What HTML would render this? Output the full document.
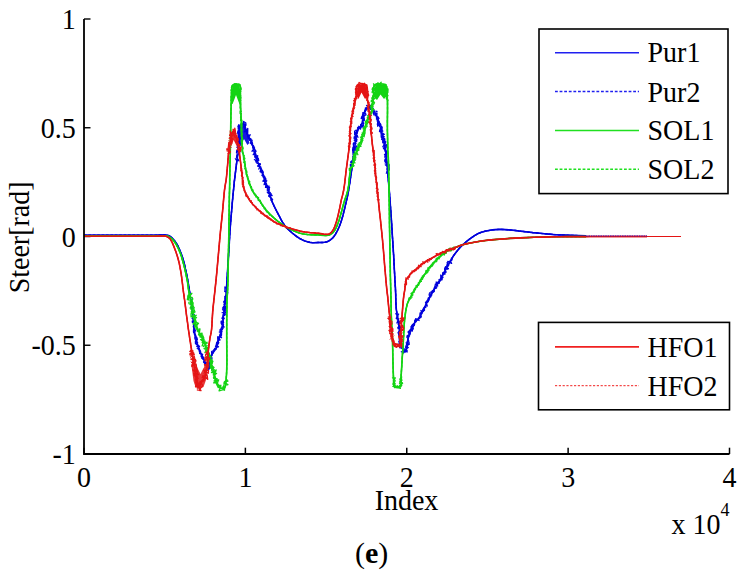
<!DOCTYPE html>
<html><head><meta charset="utf-8"><style>
html,body{margin:0;padding:0;background:#fff;}
svg{display:block;}
text{font-family:"Liberation Serif",serif;font-size:28px;fill:#000;}
</style></head><body>
<svg width="745" height="578" viewBox="0 0 745 578">
<rect width="745" height="578" fill="#fff"/>
<g fill="none"><line x1="84" y1="19.00" x2="90.5" y2="19.00" stroke="#000" stroke-width="1.4"/><line x1="84" y1="127.75" x2="90.5" y2="127.75" stroke="#000" stroke-width="1.4"/><line x1="84" y1="236.50" x2="90.5" y2="236.50" stroke="#000" stroke-width="1.4"/><line x1="84" y1="345.25" x2="90.5" y2="345.25" stroke="#000" stroke-width="1.4"/><line x1="84" y1="454.00" x2="90.5" y2="454.00" stroke="#000" stroke-width="1.4"/><line x1="84.00" y1="454" x2="84.00" y2="447.7" stroke="#000" stroke-width="1.5"/><line x1="245.38" y1="454" x2="245.38" y2="447.7" stroke="#000" stroke-width="1.5"/><line x1="406.75" y1="454" x2="406.75" y2="447.7" stroke="#000" stroke-width="1.5"/><line x1="568.12" y1="454" x2="568.12" y2="447.7" stroke="#000" stroke-width="1.5"/><line x1="729.50" y1="454" x2="729.50" y2="447.7" stroke="#000" stroke-width="1.5"/></g>
<g fill="none" stroke-linejoin="round" stroke-linecap="butt">

<polyline points="84.0,235.2 88.0,235.2 91.9,235.2 95.9,235.2 100.0,235.2 104.8,235.2 109.9,235.2 114.9,235.2 120.0,235.2 125.1,235.2 130.2,235.2 135.2,235.2 140.0,235.2 143.9,235.2 147.7,235.2 151.4,235.2 155.0,235.2 158.3,235.1 161.6,235.0 164.6,235.0 167.0,235.2 168.2,235.5 169.1,235.8 170.0,236.3 170.9,236.9 171.7,237.6 172.5,238.5 173.5,239.5 174.5,240.7 175.5,242.1 176.5,243.5 177.6,245.4 178.6,247.5 179.6,249.8 180.5,252.0 181.4,254.2 182.2,256.5 182.9,258.8 183.6,261.2 184.3,263.7 184.9,266.3 185.4,268.9 186.0,271.5 186.6,274.1 187.1,276.8 187.6,279.4 188.1,281.9 188.4,284.0 188.7,286.0 189.0,287.9 189.3,290.0 189.7,292.4 190.0,294.8 190.4,297.3 190.8,300.0 191.3,303.5 191.9,307.3 192.5,311.1 193.0,315.0 193.4,319.0 193.7,323.1 194.0,327.2 194.5,331.2 195.2,335.3 196.1,339.3 197.1,343.3 198.2,347.0 199.3,350.0 200.6,352.8 201.8,355.5 203.0,357.9 203.8,359.6 204.5,361.1 205.2,362.6 206.0,364.0 206.8,365.5 207.6,367.1 208.4,368.4 209.1,368.8 209.8,367.1 210.3,363.4 210.7,359.1 211.5,355.5 212.5,353.5 213.7,351.7 215.0,350.0 216.0,348.2 216.8,346.2 217.4,344.2 217.9,342.1 218.5,340.0 219.3,337.7 220.0,335.3 220.8,332.8 221.5,330.0 222.3,325.7 222.9,320.8 223.4,315.8 224.0,311.0 224.5,306.6 225.1,302.3 225.6,298.1 226.0,294.0 226.3,290.5 226.5,287.2 226.8,283.8 227.0,280.0 227.4,273.8 227.8,266.9 228.3,259.7 228.7,252.5 229.2,244.9 229.6,237.1 230.1,229.3 230.7,221.5 231.4,213.3 232.1,205.0 232.8,197.0 233.5,190.0 233.9,186.1 234.2,182.7 234.6,179.4 235.0,176.0 235.5,172.0 236.0,167.8 236.5,163.8 237.0,160.0 237.4,157.4 237.8,155.1 238.3,152.7 238.6,150.0 238.8,144.4 238.8,137.6 239.0,131.3 239.6,127.0 240.1,125.9 240.8,125.1 241.5,124.5 242.6,123.7 243.8,123.5 244.7,124.9 245.4,127.6 246.1,130.7 246.9,133.5 247.9,135.5 249.0,137.3 250.1,139.2 251.1,141.1 251.9,143.3 252.6,145.6 253.2,147.9 253.8,150.0 254.2,151.4 254.4,152.7 254.7,154.0 255.2,155.6 256.4,158.9 258.1,162.8 259.9,167.0 261.5,171.0 262.9,174.9 264.3,178.7 265.7,182.6 267.0,186.5 268.3,190.5 269.6,194.5 271.0,198.5 272.4,202.3 273.9,205.6 275.4,208.7 277.0,211.8 278.6,214.8 280.1,217.7 281.6,220.6 283.2,223.3 284.8,225.7 286.0,227.2 287.2,228.5 288.5,229.7 290.0,231.0 292.2,233.0 294.7,235.0 297.4,237.0 300.0,238.7 302.5,239.9 305.0,241.0 307.5,241.8 310.0,242.4 312.0,242.6 314.0,242.7 316.0,242.6 318.0,242.5 320.2,242.5 322.4,242.5 324.6,242.3 326.6,241.9 328.3,241.2 329.9,240.2 331.4,239.1 332.8,237.8 334.3,236.0 335.6,234.0 336.8,231.8 338.0,229.5 339.2,226.8 340.3,223.9 341.3,221.0 342.2,218.0 343.1,214.9 343.8,211.8 344.6,208.7 345.3,205.6 346.0,202.8 346.6,200.0 347.3,197.2 347.9,194.2 348.6,190.4 349.2,186.3 349.9,182.2 350.5,178.0 351.2,173.5 351.8,168.9 352.4,164.2 353.0,159.8 353.5,156.0 354.0,152.3 354.5,148.6 355.0,145.0 355.4,141.3 355.8,137.4 356.2,133.8 357.1,130.8 358.1,129.2 359.2,127.8 360.4,126.6 361.4,125.0 362.2,122.4 362.8,119.4 363.3,116.4 364.0,113.9 364.6,112.5 365.2,111.2 365.8,110.0 366.5,109.0 367.4,107.8 368.3,106.8 369.2,106.3 370.1,106.8 371.1,107.8 372.0,109.0 372.8,109.9 373.7,110.8 374.5,111.9 375.3,113.1 376.5,115.7 377.6,118.9 378.7,122.2 379.6,125.0 380.1,126.5 380.6,127.8 381.0,129.2 381.5,130.8 382.3,134.2 383.2,138.1 384.0,142.3 384.7,146.3 385.3,149.8 385.9,153.3 386.4,156.7 386.8,160.0 387.0,162.5 387.2,164.8 387.3,167.2 387.5,170.0 388.0,176.0 388.6,183.0 389.3,190.7 389.9,198.9 390.8,211.0 391.7,224.4 392.5,237.8 393.3,250.0 393.8,258.4 394.2,266.5 394.6,273.8 394.9,280.0 395.1,282.8 395.2,285.1 395.4,287.4 395.5,290.0 395.7,294.6 395.8,299.8 396.0,305.0 396.4,310.0 397.0,313.9 397.7,317.5 398.5,321.1 399.1,325.0 399.5,330.0 399.8,335.5 400.2,340.7 401.0,345.0 401.9,347.4 402.9,349.7 404.0,351.4 405.0,352.0 406.1,349.9 407.1,345.2 408.0,339.7 409.0,335.0 409.9,332.2 410.8,329.6 411.8,327.2 413.0,325.0 414.2,323.4 415.4,321.9 416.7,320.5 418.0,319.0 419.3,317.1 420.6,315.2 421.8,313.1 423.0,311.0 424.3,308.4 425.5,305.7 426.8,302.9 428.2,300.0 430.1,296.5 432.2,292.9 434.4,289.2 436.5,285.7 438.4,282.5 440.2,279.4 442.0,276.3 443.8,273.2 445.4,270.3 447.0,267.3 448.5,264.5 450.0,261.8 451.2,259.7 452.4,257.7 453.6,255.7 455.0,253.7 456.9,251.3 458.9,248.8 461.1,246.4 463.6,244.0 467.0,241.1 470.9,238.1 474.9,235.4 478.7,233.3 481.6,232.2 484.4,231.4 487.2,230.8 490.0,230.3 492.5,229.9 495.0,229.6 497.5,229.5 500.1,229.4 503.0,229.5 505.9,229.6 508.9,229.9 512.0,230.2 515.4,230.5 518.9,231.0 522.4,231.4 525.9,231.8 529.4,232.2 532.8,232.6 536.3,232.9 540.0,233.3 544.3,233.7 548.7,234.1 553.2,234.5 558.1,234.8 564.7,235.1 571.7,235.4 578.9,235.6 586.0,235.8" stroke="#0000dc" stroke-width="1.6"/>
<polyline points="84.0,235.2 88.0,235.2 91.9,235.2 95.9,235.2 100.0,235.2 104.8,235.2 109.9,235.2 114.9,235.2 120.0,235.2 125.1,235.2 130.2,235.2 135.2,235.2 140.0,235.2 143.9,235.2 147.7,235.2 151.4,235.2 155.0,235.2 158.3,235.1 161.6,235.0 164.6,235.0 167.0,235.2 168.2,235.5 169.1,235.8 170.0,236.3 170.9,236.9 171.7,237.6 172.5,238.5 173.5,239.5 174.5,240.7 175.5,242.1 176.5,243.5 177.6,245.4 178.6,247.5 179.6,249.8 180.5,252.0 181.4,254.2 182.2,256.5 182.9,258.8 183.6,261.2 184.3,263.7 184.9,266.3 185.4,268.9 186.0,271.5 186.6,274.1 187.1,276.8 187.6,279.4 188.1,281.9 188.4,284.0 188.7,286.0 189.0,287.9 189.3,290.0 189.7,292.4 190.0,294.8 190.4,297.3 190.8,300.0 191.3,303.5 191.9,307.3 192.5,311.1 192.6,312.1 192.7,313.1 192.9,314.0 192.3,315.7 193.6,317.1 192.2,315.6 192.2,316.4 194.0,316.9 193.5,318.0 192.8,319.6 194.5,321.0 192.2,320.6 192.6,323.6 194.6,324.2 194.7,324.8 195.1,325.8 193.2,326.8 193.9,327.3 194.2,326.9 193.7,327.7 193.7,327.4 195.2,330.7 195.8,331.1 194.7,332.1 193.6,332.6 194.6,331.7 194.1,333.7 194.4,334.3 195.5,334.9 194.3,336.0 194.8,335.9 194.9,337.2 194.7,339.1 197.4,338.9 196.9,341.7 195.2,339.6 197.6,342.9 197.3,341.3 196.8,344.6 198.5,345.3 196.8,346.4 197.6,346.9 197.2,348.7 198.9,348.8 198.1,349.4 199.5,350.3 199.3,351.7 199.7,351.1 199.6,353.5 199.9,352.7 200.2,355.1 202.0,355.6 200.9,356.1 202.2,355.6 201.6,359.7 202.3,358.0 203.1,359.9 202.9,360.2 204.1,362.3 203.4,361.3 205.2,364.3 205.7,363.2 206.6,363.1 204.7,364.8 208.2,366.6 206.3,367.1 208.8,366.0 208.7,367.7 208.2,367.9 208.4,367.3 208.2,366.7 208.5,367.3 210.4,363.1 211.1,363.0 210.2,363.7 209.8,361.6 210.2,360.1 211.8,359.1 211.8,358.7 210.0,358.6 209.3,356.6 210.6,357.0 212.6,358.6 209.9,355.7 210.7,355.8 211.9,355.2 213.3,351.0 212.0,350.6 215.6,349.3 214.9,349.5 214.9,350.4 215.0,349.2 217.0,349.1 216.8,348.1 216.9,345.5 217.8,345.7 219.0,341.5 216.6,342.3 219.3,341.2 217.8,342.0 218.0,337.4 217.4,336.4 220.1,335.9 220.3,338.5 221.5,337.4 219.8,335.8 221.5,335.4 219.8,334.8 219.4,331.9 222.8,331.7 220.5,332.2 221.3,327.8 220.0,328.1 221.2,330.2 221.1,328.9 223.4,326.2 224.0,326.8 222.3,323.8 222.3,325.8 222.7,321.9 222.2,322.3 221.7,322.0 221.2,322.2 221.8,318.2 223.4,318.3 224.5,318.3 223.3,319.0 222.3,317.7 224.0,315.5 225.2,312.9 224.9,312.6 224.9,311.9 222.2,312.6 225.4,310.7 224.0,311.5 223.2,310.3 222.5,309.0 225.2,307.7 223.5,305.5 225.3,306.3 226.1,306.8 223.4,306.7 226.4,305.5 226.1,304.0 225.9,303.1 225.5,300.4 224.0,301.6 225.7,297.9 226.0,299.4 225.6,299.3 227.0,296.8 226.9,296.5 226.1,295.3 227.4,294.6 227.6,293.3 226.7,294.9 226.8,291.7 224.7,291.3 226.0,291.9 227.4,291.8 226.2,288.5 226.7,289.1 226.5,287.2 226.8,283.8 227.0,280.0 227.4,273.8 227.8,266.9 228.3,259.7 228.7,252.5 229.2,244.9 229.6,237.1 230.1,229.3 230.7,221.5 231.4,213.3 232.1,205.0 232.8,197.0 233.5,190.0 233.9,186.1 234.2,182.7 234.6,179.4 235.0,176.0 235.5,172.0 236.0,167.8 236.5,163.8 236.6,162.8 236.7,161.9 236.9,160.9 235.4,158.6 235.8,158.3 236.5,160.5 236.3,159.5 236.8,154.9 239.7,153.1 236.5,152.5 236.5,153.0 237.1,151.1 236.5,152.8 236.8,149.6 238.9,151.8 239.2,150.2 239.4,149.8 240.1,145.9 237.0,147.4 238.8,146.1 239.9,143.6 239.6,144.0 238.5,142.3 238.0,143.1 239.0,143.8 238.0,142.0 237.3,140.9 237.5,141.0 240.6,137.3 240.0,136.3 238.1,134.8 238.6,133.9 239.7,135.3 238.6,135.0 237.9,132.3 238.4,129.8 240.4,129.3 237.6,131.9 240.4,129.3 239.0,127.0 237.6,128.0 238.6,125.3 241.7,123.6 240.3,126.3 242.4,122.6 243.6,124.0 244.3,125.6 245.4,124.7 245.7,124.9 245.1,127.3 245.6,126.1 243.5,129.0 244.9,128.0 244.9,129.4 245.5,131.6 246.4,131.0 247.4,131.4 246.8,133.8 247.8,134.7 248.9,134.8 248.1,134.0 247.5,136.1 249.0,139.2 247.8,137.5 251.1,139.0 252.0,138.5 252.1,140.8 251.8,140.1 251.5,144.8 253.1,144.4 252.1,142.6 253.4,145.4 253.8,147.3 252.9,149.7 252.1,151.1 252.2,152.3 254.5,151.2 256.1,152.8 254.8,151.9 256.1,155.5 254.2,153.7 255.2,158.5 257.2,157.1 254.4,159.7 255.3,160.0 256.8,161.9 255.8,161.9 258.3,158.9 258.0,161.1 258.8,165.0 259.1,163.6 259.2,163.3 259.0,163.5 260.4,164.1 260.0,165.4 260.4,165.6 258.7,169.2 261.7,171.2 261.9,172.6 260.1,171.6 262.3,170.2 260.7,171.3 262.4,174.7 263.5,174.4 261.3,175.9 263.3,174.0 263.9,175.2 263.0,176.9 265.0,176.1 264.1,177.5 265.2,181.0 263.9,181.3 265.0,179.7 264.5,182.0 266.8,183.1 264.0,184.7 266.5,183.8 265.5,184.7 267.5,184.6 265.6,188.3 267.0,185.2 269.0,186.2 267.3,189.5 268.7,191.6 267.1,190.8 270.0,191.1 269.7,191.9 269.9,195.1 268.7,194.9 269.0,196.4 270.9,197.0 271.6,196.6 272.1,195.3 271.0,195.7 271.3,199.4 270.4,200.8 271.5,200.0 271.8,200.8 272.1,201.5 272.4,202.3 273.9,205.6 275.4,208.7 277.0,211.8 278.6,214.8 280.1,217.7 281.6,220.6 283.2,223.3 284.8,225.7 286.0,227.2 287.2,228.5 288.5,229.7 290.0,231.0 292.2,233.0 294.7,235.0 297.4,237.0 300.0,238.7 302.5,239.9 305.0,241.0 307.5,241.8 310.0,242.4 312.0,242.6 314.0,242.7 316.0,242.6 318.0,242.5 320.2,242.5 322.4,242.5 324.6,242.3 326.6,241.9 328.3,241.2 329.9,240.2 331.4,239.1 332.8,237.8 334.3,236.0 335.6,234.0 336.8,231.8 338.0,229.5 339.2,226.8 340.3,223.9 341.3,221.0 342.2,218.0 343.1,214.9 343.8,211.8 344.6,208.7 345.3,205.6 346.0,202.8 346.6,200.0 347.3,197.2 347.9,194.2 348.6,190.4 349.2,186.3 349.9,182.2 350.5,178.0 351.2,173.5 351.8,168.9 351.9,167.9 351.7,165.4 350.9,166.5 351.8,162.8 351.6,166.7 352.4,164.3 352.3,160.2 353.2,160.1 351.3,161.3 353.7,157.3 355.0,156.4 351.9,157.0 354.6,158.2 354.5,155.6 355.4,153.2 355.7,151.8 352.4,154.5 355.1,153.2 353.1,153.3 354.3,148.9 352.7,152.1 352.6,147.2 354.0,149.8 356.1,148.6 355.4,143.4 356.0,143.4 357.0,146.5 353.4,144.3 354.2,140.1 357.0,141.0 354.6,140.6 353.8,139.0 356.3,140.3 354.2,139.5 354.2,135.0 355.3,133.9 354.4,135.6 355.8,132.2 356.6,130.9 357.6,134.2 357.0,130.4 357.2,129.3 357.7,127.5 357.8,129.5 359.1,125.6 358.3,129.0 359.8,128.3 361.4,126.4 360.8,125.4 361.3,124.2 363.8,121.2 361.1,124.5 364.2,123.0 364.1,118.4 363.7,117.5 364.4,117.9 363.1,117.5 362.1,116.8 365.1,115.3 363.5,114.1 362.7,112.8 366.0,114.9 364.6,110.1 365.1,111.9 365.5,107.3 366.6,105.7 366.8,105.4 369.8,108.5 369.1,105.7 371.4,105.4 370.3,109.4 372.7,109.1 373.3,108.3 373.5,110.2 374.2,110.9 377.0,111.5 375.7,113.1 375.3,117.0 378.7,118.9 376.4,117.5 377.1,115.9 377.3,119.5 377.5,121.2 377.9,119.5 380.1,121.7 377.7,124.3 378.9,123.6 379.2,125.9 380.6,124.7 379.3,127.2 381.5,127.1 382.2,128.0 380.7,128.2 380.3,128.2 383.3,131.1 380.0,130.1 381.6,134.1 383.6,134.7 381.4,133.8 384.3,134.4 383.3,133.4 382.7,136.6 384.7,139.7 384.2,137.3 384.9,141.1 381.7,139.4 383.9,139.6 382.7,143.0 382.8,142.6 382.1,142.9 386.2,141.3 382.8,146.8 386.3,145.5 383.8,145.3 385.8,147.6 384.8,149.1 383.5,148.4 386.9,152.0 385.4,152.2 387.2,151.7 384.3,150.4 386.6,152.5 386.1,151.8 388.0,153.9 386.8,156.5 385.8,155.2 386.8,156.7 384.8,156.7 384.8,161.3 385.6,162.2 387.4,163.2 386.8,160.4 385.3,163.1 387.9,164.6 388.9,162.7 387.8,166.6 389.1,165.1 389.1,164.7 387.7,167.2 387.5,167.4 387.0,169.2 387.4,170.4 386.5,170.0 387.7,172.6 387.8,173.4 387.8,174.3 387.9,175.1 388.0,176.0 388.6,183.0 389.3,190.7 389.9,198.9 390.8,211.0 391.7,224.4 392.5,237.8 393.3,250.0 393.8,258.4 394.2,266.5 394.6,273.8 394.9,280.0 395.1,282.8 395.2,285.1 395.4,287.4 395.5,290.0 395.7,294.6 395.8,299.8 396.0,305.0 396.4,310.0 397.0,313.9 397.0,316.9 398.6,314.1 398.0,315.0 397.1,319.7 397.3,316.7 398.3,319.7 398.3,322.2 398.5,320.5 397.6,322.5 399.6,323.1 398.6,322.9 400.3,327.2 399.5,326.8 398.6,325.2 397.8,328.0 400.9,329.2 400.1,330.8 399.2,329.7 398.7,332.4 400.3,332.0 400.6,334.6 398.1,332.4 399.6,335.5 398.9,335.2 400.4,335.5 400.5,335.3 399.7,338.7 401.3,339.0 400.7,340.6 400.7,340.5 399.7,339.9 401.9,343.6 401.2,344.4 400.2,342.7 401.1,344.9 401.8,347.4 401.2,346.1 402.6,349.1 402.5,348.6 404.0,350.8 401.3,351.8 402.1,350.8 404.0,353.5 404.1,350.0 407.2,350.8 406.0,349.6 405.5,346.9 406.7,346.8 406.7,349.3 408.6,345.3 406.5,343.6 407.6,343.0 406.0,345.5 407.7,344.6 406.6,340.6 408.0,342.1 406.7,340.5 408.2,339.7 407.5,338.5 407.0,336.0 407.0,338.3 407.9,336.7 407.6,336.7 407.6,335.4 409.7,334.9 411.3,330.1 408.6,330.2 408.9,332.1 409.6,330.4 412.7,329.7 413.2,328.7 411.4,329.3 411.2,326.7 412.3,325.9 412.3,327.0 415.3,325.1 414.1,325.3 416.4,320.7 416.8,320.2 414.7,320.1 416.3,320.5 419.0,318.2 418.5,319.0 417.3,320.3 420.8,316.5 421.2,315.9 421.2,317.1 421.7,313.6 420.2,313.0 422.5,311.4 422.9,309.6 422.1,310.9 423.4,311.0 422.9,308.3 425.1,307.5 423.5,308.1 424.6,307.0 427.2,307.8 427.0,306.8 427.4,303.2 428.3,301.2 426.1,302.2 426.2,301.9 428.0,299.4 429.1,298.2 428.6,298.1 430.7,296.7 429.2,298.3 429.4,298.0 429.2,293.9 429.2,295.3 431.3,294.5 431.7,295.3 431.2,291.3 431.8,293.6 434.2,289.7 431.8,292.9 435.6,289.0 434.5,287.3 434.9,287.1 435.9,286.3 435.9,286.4 436.0,288.4 436.6,287.8 437.7,283.7 436.6,285.5 438.9,281.7 439.5,281.6 439.1,283.4 440.8,279.5 438.5,279.1 440.6,281.4 441.2,279.8 442.3,277.7 441.1,278.4 442.5,278.0 444.2,275.4 442.4,273.1 443.7,273.2 443.1,273.2 445.0,273.3 444.5,272.4 445.5,272.8 446.1,271.8 444.9,271.1 444.4,270.2 444.9,268.6 446.2,265.9 448.2,265.0 448.4,264.1 447.1,264.7 448.7,265.2 448.5,265.2 447.8,261.3 449.6,262.3 450.9,262.8 450.3,261.0 451.9,258.2 451.3,258.4 452.4,257.7 453.6,255.7 455.0,253.7 456.9,251.3 458.9,248.8 461.1,246.4 463.6,244.0 467.0,241.1 470.9,238.1 474.9,235.4 478.7,233.3 481.6,232.2 484.4,231.4 487.2,230.8 490.0,230.3 492.5,229.9 495.0,229.6 497.5,229.5 500.1,229.4 503.0,229.5 505.9,229.6 508.9,229.9 512.0,230.2 515.4,230.5 518.9,231.0 522.4,231.4 525.9,231.8 529.4,232.2 532.8,232.6 536.3,232.9 540.0,233.3 544.3,233.7 548.7,234.1 553.2,234.5 558.1,234.8 564.7,235.1 571.7,235.4 578.9,235.6 586.0,235.8" stroke="#0000dc" stroke-width="1.3" stroke-dasharray="2.6 1.8"/>
<polyline points="84.0,235.2 88.0,235.2 91.9,235.2 95.9,235.2 100.0,235.2 104.8,235.2 109.9,235.2 114.9,235.2 120.0,235.2 125.1,235.2 130.2,235.2 135.2,235.2 140.0,235.2 143.9,235.2 147.7,235.2 151.4,235.2 155.0,235.2 158.3,235.1 161.6,235.0 164.6,235.0 167.0,235.2 168.2,235.5 169.1,235.8 170.0,236.3 170.9,236.9 171.7,237.6 172.5,238.5 173.5,239.5 174.5,240.7 175.5,242.1 176.5,243.5 177.6,245.4 178.6,247.5 179.6,249.8 180.5,252.0 181.4,254.2 182.2,256.5 182.9,258.8 183.6,261.2 184.3,263.7 184.9,266.3 185.4,268.9 186.0,271.5 186.6,274.1 187.1,276.8 187.6,279.4 188.1,281.9 188.4,284.0 188.7,286.0 189.0,287.9 189.3,290.0 189.7,292.4 190.0,294.8 190.4,297.3 190.8,300.0 191.3,303.5 191.9,307.3 192.5,311.1 192.6,312.1 192.7,313.1 192.9,314.0 194.2,316.6 194.2,314.3 193.4,316.3 193.3,316.1 192.4,318.0 192.6,318.8 192.1,318.3 194.1,320.4 193.6,322.3 193.2,320.7 194.5,323.4 194.2,324.3 195.1,324.2 194.6,325.1 194.1,326.9 193.5,325.7 194.0,328.8 194.5,328.6 194.7,328.4 193.5,329.8 195.4,330.1 193.5,330.6 193.5,332.0 195.1,334.8 194.6,334.0 194.6,334.6 196.2,336.2 194.9,335.5 196.6,338.4 196.9,337.6 196.2,340.8 196.6,341.7 195.5,342.6 195.4,341.4 195.5,343.6 197.6,345.0 198.2,345.8 197.8,346.9 198.6,345.5 199.6,346.6 197.7,346.5 198.8,347.9 200.6,351.6 198.9,349.5 200.2,350.7 200.7,353.9 200.3,353.4 202.6,354.4 201.4,356.9 203.1,357.7 203.2,356.8 203.6,359.1 203.8,357.8 203.2,359.2 204.9,360.6 204.7,362.3 203.7,362.3 204.8,362.8 206.6,362.4 207.6,362.1 206.6,364.9 205.8,365.8 207.1,366.1 208.4,364.9 208.0,369.6 207.8,370.4 208.4,368.8 208.7,366.9 209.7,364.4 210.7,365.2 210.8,364.5 210.4,363.5 209.6,364.3 209.0,363.3 211.8,360.8 211.6,360.7 211.1,358.2 210.3,357.5 210.4,359.3 210.7,355.9 211.2,356.9 211.9,354.7 211.6,352.5 211.7,351.4 212.9,353.3 214.4,349.2 214.8,348.4 215.7,348.9 217.3,347.1 217.6,346.1 218.5,346.8 215.5,346.6 216.6,343.6 216.4,344.7 216.5,343.2 217.8,341.9 217.8,338.1 220.2,339.9 217.8,340.5 220.7,336.3 217.8,337.3 218.5,337.1 219.9,336.2 220.5,335.6 221.7,334.1 221.1,332.0 219.8,330.0 222.5,329.6 221.2,329.2 222.1,329.3 223.1,328.0 221.5,328.1 223.0,328.4 221.6,327.4 224.1,327.0 221.2,323.5 223.5,324.7 221.1,322.0 223.6,322.8 223.0,319.6 222.7,318.1 222.4,318.8 224.3,318.7 223.0,316.4 222.7,317.4 223.3,314.4 224.7,315.4 225.3,314.4 224.2,313.1 224.2,314.5 225.6,312.5 223.8,309.1 225.3,309.7 223.8,307.3 222.7,307.9 226.1,308.6 225.3,307.4 223.9,304.3 225.1,303.0 225.2,304.1 225.1,301.5 223.6,302.2 223.9,302.1 224.6,301.2 226.3,300.3 225.6,297.6 225.0,300.2 224.8,296.3 225.7,296.7 226.9,294.7 227.5,292.7 227.0,294.3 227.5,291.6 226.8,294.2 226.8,289.7 227.8,292.6 225.0,291.1 224.9,287.0 227.5,289.0 226.5,287.2 226.8,283.8 227.0,280.0 227.4,273.8 227.8,266.9 228.3,259.7 228.7,252.5 229.2,244.9 229.6,237.1 230.1,229.3 230.7,221.5 231.4,213.3 232.1,205.0 232.8,197.0 233.5,190.0 233.9,186.1 234.2,182.7 234.6,179.4 235.0,176.0 235.5,172.0 236.0,167.8 236.5,163.8 236.6,162.8 236.7,161.9 236.9,160.9 238.8,160.6 237.2,158.0 237.6,160.7 238.0,159.2 236.5,157.4 238.7,153.1 239.2,152.8 237.0,151.4 238.9,151.0 240.2,149.4 239.7,152.2 238.9,150.3 239.8,149.8 237.3,149.8 238.1,148.0 238.8,148.7 238.4,147.7 237.2,144.3 239.5,144.9 240.1,142.1 240.0,144.1 237.5,140.1 239.1,143.3 239.3,139.8 238.9,140.8 238.9,138.6 239.2,139.7 240.0,138.3 238.0,136.3 240.1,136.0 240.6,136.0 237.5,133.1 238.4,130.8 239.0,133.6 240.1,128.5 238.2,129.0 240.8,128.5 238.2,128.1 238.6,124.8 240.5,128.2 241.8,126.2 240.2,124.8 243.2,124.9 243.6,121.4 245.9,123.1 245.6,124.7 246.0,125.0 243.6,126.4 245.3,129.0 245.2,129.2 245.2,130.3 244.6,131.8 247.8,128.5 247.7,133.0 247.4,130.7 247.8,134.8 247.9,136.7 249.6,136.1 250.1,134.7 248.2,137.5 249.7,140.4 250.7,139.7 251.1,142.3 250.7,142.2 251.9,141.7 251.3,141.6 250.3,143.3 251.6,142.8 252.6,144.9 254.6,148.1 253.9,149.6 252.7,147.1 254.2,148.7 256.0,151.1 255.9,151.5 253.2,154.7 255.7,153.7 256.8,157.9 256.2,158.7 257.7,155.6 257.0,159.3 257.3,158.2 256.9,160.1 258.4,158.3 257.0,160.4 258.9,160.2 256.4,161.0 257.0,163.3 260.2,163.8 257.6,166.1 258.9,166.5 260.8,166.8 261.1,168.3 261.9,169.8 262.4,170.6 260.3,170.2 262.5,172.4 262.7,173.4 263.3,172.7 262.9,171.1 262.6,175.2 264.5,176.5 263.0,174.3 265.0,177.2 262.6,175.0 265.5,178.3 262.8,181.1 264.9,180.7 266.0,179.1 265.2,179.5 265.8,181.5 266.8,180.8 264.8,182.8 264.3,183.7 268.2,186.7 265.5,187.3 265.9,185.3 267.8,186.3 266.4,186.1 266.6,187.4 269.6,187.5 268.5,189.1 269.4,188.9 268.3,193.2 267.3,192.5 268.7,193.6 270.1,192.5 271.3,194.2 271.2,194.4 268.9,195.4 269.1,196.5 269.6,196.5 272.6,199.4 271.5,200.0 271.8,200.8 272.1,201.5 272.4,202.3 273.9,205.6 275.4,208.7 277.0,211.8 278.6,214.8 280.1,217.7 281.6,220.6 283.2,223.3 284.8,225.7 286.0,227.2 287.2,228.5 288.5,229.7 290.0,231.0 292.2,233.0 294.7,235.0 297.4,237.0 300.0,238.7 302.5,239.9 305.0,241.0 307.5,241.8 310.0,242.4 312.0,242.6 314.0,242.7 316.0,242.6 318.0,242.5 320.2,242.5 322.4,242.5 324.6,242.3 326.6,241.9 328.3,241.2 329.9,240.2 331.4,239.1 332.8,237.8 334.3,236.0 335.6,234.0 336.8,231.8 338.0,229.5 339.2,226.8 340.3,223.9 341.3,221.0 342.2,218.0 343.1,214.9 343.8,211.8 344.6,208.7 345.3,205.6 346.0,202.8 346.6,200.0 347.3,197.2 347.9,194.2 348.6,190.4 349.2,186.3 349.9,182.2 350.5,178.0 351.2,173.5 351.8,168.9 351.9,167.9 352.0,167.1 353.4,163.7 350.4,166.0 350.4,164.3 353.0,165.2 350.6,162.0 352.0,162.0 350.9,162.0 354.9,160.1 353.8,160.6 354.7,159.6 353.3,154.8 354.7,157.8 354.5,154.1 355.7,154.8 353.1,154.7 352.9,150.9 355.8,149.1 355.8,149.9 354.7,150.5 356.2,147.2 352.9,147.8 353.6,146.4 353.3,143.8 355.3,142.7 354.1,143.5 353.5,144.7 357.0,139.8 356.7,139.6 356.4,138.0 356.6,141.6 354.7,136.7 355.1,139.3 357.0,134.8 357.7,136.9 358.0,137.2 354.8,135.0 354.6,131.2 357.0,130.4 355.9,130.1 357.4,132.2 358.4,129.5 359.6,126.9 360.5,129.2 361.1,126.9 360.6,124.3 360.7,126.5 363.3,127.1 361.0,125.5 363.4,125.7 363.0,121.5 364.0,118.9 362.9,120.2 364.4,120.0 361.7,116.7 361.2,118.7 364.5,115.8 362.4,115.9 362.5,114.9 363.3,113.0 365.4,111.2 364.5,111.5 367.6,108.2 365.7,107.8 366.6,107.7 369.6,105.1 370.1,105.9 370.4,106.8 371.5,106.2 372.5,108.5 374.0,110.4 373.3,113.3 373.2,109.3 373.7,114.1 374.0,115.2 374.4,113.8 377.0,113.2 376.5,119.1 378.0,116.7 379.0,118.5 378.9,118.1 377.4,120.8 379.2,121.5 377.0,120.9 377.9,120.8 377.4,124.4 377.8,123.3 377.6,126.1 380.4,123.6 382.0,129.1 381.6,129.4 381.9,126.7 380.3,128.6 379.5,131.5 382.1,130.9 382.9,131.1 381.2,131.3 381.2,136.0 382.4,136.2 384.2,136.6 382.2,139.0 381.2,136.9 384.8,139.1 382.7,140.7 384.5,141.0 382.7,141.6 384.5,143.2 384.0,144.5 385.0,141.6 384.6,142.3 384.9,143.8 386.6,144.7 385.9,148.0 384.3,147.6 383.9,147.4 384.9,150.0 385.4,148.1 386.1,150.8 385.7,151.3 387.3,153.3 386.6,153.3 385.6,153.8 386.9,154.7 384.5,154.4 384.5,154.4 385.9,156.9 386.4,156.8 385.6,158.9 385.9,158.8 386.8,162.2 385.1,159.1 386.8,164.5 387.7,162.9 389.1,165.7 388.6,167.4 385.3,164.8 388.5,166.6 389.0,165.9 389.3,169.7 387.1,171.7 387.7,170.6 386.3,173.2 387.7,172.6 387.8,173.4 387.8,174.3 387.9,175.1 388.0,176.0 388.6,183.0 389.3,190.7 389.9,198.9 390.8,211.0 391.7,224.4 392.5,237.8 393.3,250.0 393.8,258.4 394.2,266.5 394.6,273.8 394.9,280.0 395.1,282.8 395.2,285.1 395.4,287.4 395.5,290.0 395.7,294.6 395.8,299.8 396.0,305.0 396.4,310.0 397.0,313.9 395.9,313.9 395.9,313.5 396.8,314.6 397.6,316.8 396.2,318.3 397.3,318.1 398.4,319.5 396.9,323.0 400.3,321.0 399.3,323.4 398.1,324.2 398.3,324.0 399.0,323.8 398.3,328.8 400.3,326.8 401.1,327.6 400.7,328.4 400.9,329.8 400.9,329.4 399.3,331.2 400.7,334.4 398.4,333.3 398.6,332.7 398.5,333.6 399.2,336.1 401.3,337.9 400.9,337.4 399.4,338.6 399.2,337.7 399.4,342.6 398.8,341.6 399.6,343.6 399.0,343.3 401.6,344.0 399.7,346.7 399.6,347.7 402.7,348.3 403.2,346.8 402.7,348.0 402.9,348.4 404.2,348.9 403.7,348.7 402.5,353.1 404.5,351.4 407.3,351.9 404.9,350.1 406.3,349.4 405.7,347.1 408.3,347.5 407.1,347.0 408.0,343.8 408.2,344.4 406.1,342.8 409.2,344.4 409.0,342.1 408.2,340.8 408.7,340.6 407.5,341.8 408.2,336.7 409.5,336.0 407.8,336.7 407.8,335.7 408.8,335.1 409.8,334.9 408.0,332.0 408.6,331.5 410.1,332.9 408.8,331.8 409.6,330.7 412.4,331.0 411.8,326.1 411.1,326.9 412.8,328.5 413.9,323.8 411.7,325.7 412.5,324.6 414.2,323.6 414.3,324.5 414.7,321.3 414.9,320.3 415.5,321.1 415.7,318.6 419.1,320.5 418.1,319.1 420.4,317.8 420.4,317.3 419.9,314.4 420.3,313.0 421.8,313.3 421.1,310.6 420.9,310.5 421.8,311.5 424.5,310.3 424.4,308.9 422.8,309.5 425.6,306.0 424.4,307.4 426.2,304.2 425.5,304.3 426.5,305.2 425.5,302.3 428.6,300.7 426.4,302.7 428.3,300.6 428.1,298.1 429.2,298.1 429.0,300.1 429.6,296.9 429.6,295.6 431.0,296.7 429.6,292.9 431.0,292.9 432.2,292.1 432.2,292.8 434.3,291.4 432.3,290.7 434.1,289.6 433.1,290.9 434.5,287.4 436.0,286.9 434.5,288.0 435.5,288.3 434.8,287.1 435.4,284.0 437.7,286.1 436.1,282.0 436.9,283.6 436.7,284.5 437.1,282.8 440.4,280.4 440.9,278.7 441.2,279.7 441.9,279.9 442.1,279.4 440.7,275.0 440.9,277.4 442.5,275.5 442.8,272.6 444.9,274.3 444.1,273.2 445.6,272.3 444.7,273.0 443.8,272.4 445.8,269.5 444.6,269.6 445.5,266.6 447.7,269.2 448.4,268.5 447.0,268.5 446.8,264.9 448.0,266.0 447.1,262.5 450.5,261.5 450.4,262.6 451.6,263.4 450.3,261.3 451.5,259.3 449.5,261.8 452.0,260.0 452.4,257.7 453.6,255.7 455.0,253.7 456.9,251.3 458.9,248.8 461.1,246.4 463.6,244.0 467.0,241.1 470.9,238.1 474.9,235.4 478.7,233.3 481.6,232.2 484.4,231.4 487.2,230.8 490.0,230.3 492.5,229.9 495.0,229.6 497.5,229.5 500.1,229.4 503.0,229.5 505.9,229.6 508.9,229.9 512.0,230.2 515.4,230.5 518.9,231.0 522.4,231.4 525.9,231.8 529.4,232.2 532.8,232.6 536.3,232.9 540.0,233.3 544.3,233.7 548.7,234.1 553.2,234.5 558.1,234.8 564.7,235.1 571.7,235.4 578.9,235.6 586.0,235.8" stroke="#0000dc" stroke-width="1.3"/>
<polygon points="238.8,146 239.2,130 240.6,124.5 243.6,122 245.6,127.5 247.6,135 249.4,143 247.4,145 244,139 240.6,146" fill="#0000dc" stroke="none" opacity="0.9"/>
<polyline points="84.0,236.0 88.0,236.0 91.9,236.0 95.9,236.0 100.0,236.0 104.8,236.0 109.9,236.0 114.9,236.0 120.0,236.0 125.1,236.0 130.2,236.0 135.2,236.0 140.0,236.0 143.9,236.0 147.7,236.0 151.4,236.0 155.0,236.0 158.3,235.9 161.7,235.8 164.8,235.8 167.0,236.0 168.1,236.3 169.0,236.8 170.2,237.4 171.4,238.3 172.4,239.3 173.5,240.6 174.6,242.0 175.6,243.5 176.7,245.4 177.8,247.5 178.8,249.6 179.7,251.8 180.6,254.1 181.4,256.4 182.1,258.8 182.8,261.2 183.5,263.7 184.2,266.3 184.8,268.9 185.4,271.5 186.0,274.1 186.5,276.8 187.1,279.4 187.5,281.9 187.8,283.9 188.0,285.8 188.3,287.8 188.6,290.0 189.3,293.9 190.1,298.3 191.0,302.8 191.9,307.3 192.9,311.9 194.1,316.6 195.2,321.0 196.2,324.6 196.7,326.1 197.1,327.4 197.6,328.6 198.2,330.0 199.5,332.7 201.1,335.6 202.7,338.8 204.2,342.1 205.6,345.9 206.8,350.0 208.0,354.1 209.1,357.9 210.0,360.8 210.9,363.4 211.8,366.1 212.7,368.8 213.6,371.9 214.6,375.2 215.5,378.3 216.4,380.9 217.0,382.3 217.6,383.6 218.2,384.8 218.8,385.8 219.3,387.0 220.0,387.8 221.0,388.1 222.4,388.3 223.8,388.2 224.8,387.8 225.3,386.7 225.5,385.0 225.9,382.3 226.2,378.7 226.5,374.5 226.7,370.0 226.9,361.2 226.8,350.8 226.7,340.0 226.7,330.0 226.7,321.8 226.8,313.7 226.9,306.3 227.0,300.0 227.1,297.3 227.3,295.1 227.4,292.8 227.6,290.0 227.9,281.9 228.1,271.7 228.3,260.6 228.5,250.0 228.7,239.9 228.9,229.6 229.0,219.6 229.2,210.0 229.3,202.3 229.4,195.1 229.6,187.8 229.7,180.0 229.9,169.1 230.2,157.2 230.4,145.5 230.6,135.0 230.7,128.0 230.8,121.3 230.9,115.3 231.0,110.0 231.1,107.2 231.1,104.8 231.2,102.5 231.3,100.0 231.4,96.6 231.5,92.9 231.7,89.5 232.1,87.0 232.5,85.7 233.2,84.8 234.5,84.3 236.4,84.1 238.2,84.2 239.6,84.8 240.4,86.5 240.5,89.1 240.4,92.0 240.4,95.0 240.5,98.5 240.6,102.3 240.6,106.2 240.7,110.0 240.9,113.7 241.1,117.3 241.3,121.0 241.5,125.0 241.7,131.2 241.8,138.2 242.0,144.9 242.4,150.0 242.7,151.6 242.9,152.8 243.3,154.1 243.6,155.6 244.2,159.6 244.9,164.4 245.7,169.5 246.7,174.3 247.8,178.4 249.1,182.4 250.5,186.3 252.1,189.8 253.5,192.4 255.1,194.7 256.7,196.9 258.4,199.2 260.3,201.9 262.2,204.7 264.2,207.4 266.2,210.0 268.1,212.1 270.0,214.2 271.9,216.1 273.9,217.9 275.8,219.6 277.8,221.2 279.8,222.7 281.7,224.1 283.0,225.0 284.2,225.9 285.5,226.7 287.0,227.5 289.9,229.0 293.2,230.6 296.7,232.1 300.0,233.2 302.6,233.8 305.1,234.2 307.6,234.5 310.0,234.7 312.0,234.8 314.0,234.9 315.9,234.9 318.0,234.9 320.7,235.1 323.5,235.4 326.3,235.5 328.7,235.2 330.2,234.6 331.6,233.7 332.8,232.7 333.9,231.5 335.1,229.7 336.2,227.7 337.1,225.5 338.0,223.2 338.9,220.7 339.7,218.1 340.4,215.5 341.2,212.8 342.0,210.0 342.7,207.1 343.5,204.3 344.3,201.4 345.2,198.6 346.2,195.9 347.1,193.1 347.9,190.0 348.7,185.1 349.2,179.5 349.8,174.2 350.5,170.0 351.0,168.6 351.4,167.4 352.0,166.3 352.5,165.0 353.4,162.1 354.4,158.6 355.5,155.0 356.6,151.5 357.9,148.3 359.2,145.3 360.6,142.2 361.8,139.0 362.8,135.7 363.6,132.2 364.4,128.8 365.4,125.6 366.5,122.8 367.8,120.1 369.1,117.5 370.1,115.2 370.6,113.8 371.1,112.5 371.4,111.2 371.8,109.6 372.3,106.4 372.7,102.6 373.1,98.6 373.5,95.0 373.6,92.1 373.6,89.3 373.8,86.8 374.8,85.0 377.1,84.0 380.2,83.7 383.4,84.0 385.7,85.0 386.7,86.7 387.1,89.0 387.1,91.8 387.2,95.0 387.5,102.5 387.5,111.8 387.4,121.4 387.4,130.0 387.5,135.6 387.6,140.8 387.7,145.6 387.8,150.0 387.9,152.6 388.1,154.8 388.3,157.1 388.4,160.0 388.6,168.0 388.8,178.1 389.0,189.1 389.2,200.0 389.4,212.1 389.5,224.7 389.7,237.4 389.9,250.0 390.2,263.0 390.4,276.4 390.7,289.1 391.0,300.0 391.1,305.6 391.2,310.6 391.3,315.2 391.5,320.0 391.7,324.9 392.0,329.6 392.3,334.6 392.5,340.0 392.7,349.3 392.9,359.9 393.2,370.1 393.5,378.0 393.6,380.9 393.5,383.4 393.8,385.4 394.5,386.8 395.8,387.4 397.5,387.6 399.2,387.4 400.5,386.8 401.1,385.4 401.2,383.4 401.0,380.9 401.0,378.0 401.5,370.1 402.1,359.9 402.8,349.3 403.4,340.0 403.7,334.5 403.9,329.4 404.2,324.6 404.6,320.0 405.1,315.9 405.6,311.8 406.3,308.1 407.0,305.0 407.4,303.6 407.9,302.4 408.4,301.3 409.0,300.0 410.4,297.3 412.1,294.1 414.0,290.8 415.8,287.8 417.3,285.4 418.9,283.0 420.4,280.7 422.0,278.4 423.7,275.8 425.5,273.2 427.3,270.6 429.3,268.0 431.5,265.3 433.8,262.6 436.2,260.0 438.6,257.7 440.6,255.9 442.7,254.2 444.8,252.7 446.9,251.4 448.9,250.3 451.0,249.4 453.0,248.6 455.0,247.8 456.6,247.1 458.0,246.4 459.6,245.8 461.5,245.1 466.0,243.9 471.4,242.8 477.3,241.7 483.0,240.8 488.5,240.1 494.0,239.6 499.5,239.2 505.0,238.8 510.1,238.4 515.2,238.1 520.3,237.9 525.9,237.6 533.9,237.3 542.7,237.1 551.6,236.8 560.0,236.7 566.7,236.6 573.2,236.6 579.6,236.6 586.0,236.6" stroke="#14d414" stroke-width="1.6"/>
<polygon points="231.2,104 231.8,90 233.3,85 239.4,85 240.4,92 240.6,104 239.4,104 236,95 232.6,104" fill="#14d414" stroke="none"/>
<polygon points="373.8,97 375,87 376.5,84.8 385.5,84.8 386.8,88 386.8,96 384,99 380.5,94.5 377,100" fill="#14d414" stroke="none"/>
<polyline points="84.0,236.0 88.0,236.0 91.9,236.0 95.9,236.0 100.0,236.0 104.8,236.0 109.9,236.0 114.9,236.0 120.0,236.0 125.1,236.0 130.2,236.0 135.2,236.0 140.0,236.0 143.9,236.0 147.7,236.0 151.4,236.0 155.0,236.0 158.3,235.9 161.7,235.8 164.8,235.8 167.0,236.0 168.1,236.3 169.0,236.8 170.2,237.4 171.4,238.3 172.4,239.3 173.5,240.6 174.6,242.0 175.6,243.5 176.7,245.4 177.8,247.5 178.8,249.6 179.7,251.8 180.6,254.1 181.4,256.4 182.1,258.8 182.8,261.2 183.5,263.7 184.2,266.3 184.8,268.9 185.4,271.5 186.0,274.1 186.5,276.8 187.1,279.4 187.5,281.9 187.8,283.9 188.0,285.8 188.3,287.8 188.6,290.0 189.3,293.9 189.4,294.8 189.5,296.6 190.6,294.2 187.4,296.6 188.9,300.2 191.2,299.8 190.7,301.1 188.8,300.6 189.1,304.5 188.7,304.9 189.0,304.9 190.5,304.0 193.3,302.4 189.5,309.1 191.9,304.7 194.6,311.1 190.3,308.6 190.6,308.8 193.3,308.8 193.9,309.0 191.4,314.7 192.8,312.9 194.0,314.1 193.1,312.0 195.0,318.8 196.5,317.6 193.5,316.6 195.5,319.4 192.7,317.5 194.2,320.2 196.8,321.0 193.0,323.9 195.3,322.9 194.5,323.2 195.6,326.3 194.4,325.7 195.0,327.4 194.8,325.9 196.8,329.5 195.9,329.7 197.1,329.5 198.9,334.7 199.4,335.6 198.2,336.1 199.6,332.2 201.9,337.5 198.5,334.1 202.9,335.4 200.6,334.1 200.0,338.8 205.2,342.0 203.1,336.6 202.6,342.3 205.5,342.2 202.8,342.3 204.4,343.7 203.5,346.5 207.0,342.2 204.2,347.6 204.4,348.8 205.9,348.0 207.1,345.7 205.2,346.8 207.5,350.5 204.9,352.5 206.6,349.2 206.9,354.7 207.8,353.3 209.9,356.2 209.3,353.6 208.7,357.6 210.0,356.5 208.0,356.1 210.3,358.3 206.9,360.2 211.8,361.7 212.1,363.4 210.5,363.5 210.0,360.0 210.2,362.2 213.4,365.5 211.7,366.0 209.9,366.3 213.1,366.3 211.1,367.3 211.8,370.0 211.1,367.0 212.2,371.6 214.7,372.2 215.9,371.0 211.5,372.6 213.8,371.5 215.2,373.3 213.2,374.1 217.1,372.8 214.3,375.3 213.7,377.0 214.0,380.9 215.8,380.4 214.4,379.8 216.9,383.1 215.7,382.1 219.5,385.8 216.9,385.0 220.1,385.1 220.2,388.0 222.4,388.1 222.0,387.2 223.6,387.1 223.8,387.3 223.8,385.5 223.9,387.0 224.1,382.9 227.1,383.6 227.9,384.7 225.2,385.6 227.9,381.1 224.0,382.3 226.0,380.5 226.1,379.6 226.2,378.7 226.5,374.5 226.7,370.0 226.9,361.2 226.8,350.8 226.7,340.0 226.7,330.0 226.7,321.8 226.8,313.7 226.9,306.3 227.0,300.0 227.1,297.3 227.3,295.1 227.4,292.8 227.6,290.0 227.9,281.9 228.1,271.7 228.3,260.6 228.5,250.0 228.7,239.9 228.9,229.6 229.0,219.6 229.2,210.0 229.3,202.3 229.4,195.1 229.6,187.8 229.7,180.0 229.9,169.1 230.2,157.2 230.4,145.5 230.6,135.0 230.7,128.0 230.8,121.3 230.9,115.3 231.0,110.0 231.1,107.2 231.1,104.8 231.2,102.5 231.6,101.8 231.6,100.7 231.4,99.7 231.2,99.0 231.2,98.2 231.7,97.0 231.1,96.3 232.0,95.7 231.0,95.2 231.9,94.3 231.4,93.2 231.4,91.6 232.0,91.7 231.3,90.9 231.2,89.2 231.3,88.2 231.6,88.1 231.9,86.6 232.1,85.4 233.6,84.9 234.1,84.6 235.5,84.1 236.4,84.3 237.6,84.1 238.4,84.2 239.8,84.6 239.9,85.7 240.6,86.2 240.9,87.3 240.9,88.5 241.1,89.3 240.4,89.9 240.6,91.4 240.8,91.5 239.9,92.5 239.9,93.4 239.8,94.6 240.0,96.1 240.6,97.4 241.0,98.0 241.0,97.9 240.2,100.1 240.5,99.8 241.0,101.2 240.6,102.0 240.2,102.5 240.8,105.2 241.4,105.7 241.3,105.9 240.3,108.0 240.8,108.4 239.9,108.5 240.7,110.5 241.3,111.4 240.5,111.6 241.4,113.7 240.8,113.1 241.1,114.6 240.7,114.9 240.8,116.6 240.5,117.3 241.9,118.7 240.8,119.0 240.6,120.5 241.5,120.3 241.4,122.0 241.5,122.3 241.1,123.1 242.3,123.9 241.5,124.9 241.0,125.7 241.1,126.4 241.4,127.4 242.3,128.2 241.4,129.8 241.5,130.4 241.9,130.4 242.0,131.3 241.3,133.6 242.5,134.2 241.2,134.6 241.4,136.3 241.4,135.9 242.0,137.6 242.0,138.2 242.6,139.0 242.6,139.7 241.8,140.4 242.3,142.0 241.5,142.4 242.3,143.2 242.3,144.3 242.4,144.6 241.8,144.8 242.8,147.2 242.0,148.4 242.9,147.6 242.9,149.0 242.1,149.5 242.4,149.9 241.9,150.8 242.6,152.2 242.7,154.7 243.4,155.6 243.9,157.3 243.3,156.6 244.6,158.8 244.8,158.8 244.0,158.9 245.0,160.9 244.5,161.7 244.2,162.0 245.3,162.0 245.0,163.0 245.4,165.1 245.3,165.1 244.4,166.1 245.1,166.8 244.8,168.7 245.6,168.8 246.2,170.3 245.9,170.4 246.6,170.9 246.8,171.0 246.8,172.8 246.7,174.5 246.3,174.1 247.4,175.6 247.2,176.5 247.7,177.5 247.8,177.3 247.5,177.6 247.5,178.3 249.1,179.3 248.8,180.1 249.6,181.7 248.6,183.1 250.0,184.2 249.2,183.8 250.2,184.3 250.4,185.9 250.9,186.9 251.3,186.7 251.7,187.9 251.2,188.0 252.3,189.5 251.9,190.6 252.9,191.2 253.6,192.4 254.1,194.1 255.2,193.5 255.7,194.3 256.3,194.5 255.9,197.0 257.0,197.3 256.8,196.9 258.6,197.6 257.9,199.1 259.4,200.2 260.1,201.1 259.7,202.1 260.0,201.0 261.5,203.4 261.5,203.3 261.2,203.4 261.5,203.9 262.7,206.2 263.9,206.1 264.0,206.7 264.6,207.9 265.5,208.8 265.5,208.9 265.2,209.3 266.1,209.3 266.3,210.5 266.9,211.7 267.8,213.1 269.0,212.8 269.2,213.3 269.5,215.1 271.3,215.1 271.3,215.4 271.9,216.1 273.9,217.9 275.8,219.6 277.8,221.2 279.8,222.7 281.7,224.1 283.0,225.0 284.2,225.9 285.5,226.7 287.0,227.5 289.9,229.0 293.2,230.6 296.7,232.1 300.0,233.2 302.6,233.8 305.1,234.2 307.6,234.5 310.0,234.7 312.0,234.8 314.0,234.9 315.9,234.9 318.0,234.9 320.7,235.1 323.5,235.4 326.3,235.5 328.7,235.2 330.2,234.6 331.6,233.7 332.8,232.7 333.9,231.5 335.1,229.7 336.2,227.7 337.1,225.5 338.0,223.2 338.9,220.7 339.7,218.1 340.4,215.5 341.2,212.8 342.0,210.0 342.7,207.1 343.5,204.3 344.3,201.4 345.2,198.6 346.2,195.9 347.1,193.1 347.9,190.0 348.7,185.1 349.2,179.5 349.8,174.2 349.9,173.3 350.6,170.8 350.4,170.1 349.7,171.3 349.2,168.7 351.8,168.5 352.9,165.8 350.4,168.4 352.9,165.9 353.0,162.3 354.9,163.0 355.0,160.4 352.8,161.4 352.9,162.1 353.2,157.5 353.1,157.5 356.4,159.5 355.6,156.4 353.4,157.5 354.0,153.5 355.5,155.8 354.8,151.1 357.9,150.0 357.5,149.8 356.1,149.3 357.0,151.9 358.8,149.3 356.3,146.8 357.4,149.0 360.1,144.5 358.2,148.2 357.9,143.2 358.7,146.3 359.0,144.8 358.8,143.7 359.3,142.6 361.8,143.2 360.9,142.9 361.1,141.9 363.4,141.4 360.5,137.1 363.0,139.2 361.6,137.8 362.7,133.3 361.4,132.4 362.1,136.0 364.1,134.8 365.2,131.7 364.6,132.1 364.7,128.6 365.7,128.0 364.2,129.7 365.6,129.6 364.2,126.2 366.0,124.2 366.8,124.7 365.4,123.8 367.0,122.2 365.1,120.7 365.6,122.5 369.3,118.6 367.7,119.4 367.5,118.5 367.2,118.0 368.2,115.4 368.0,118.8 370.6,118.3 371.3,116.3 369.6,111.9 372.9,113.4 372.3,109.4 372.7,110.5 370.2,108.2 373.7,109.4 370.5,106.0 373.1,106.5 372.2,104.6 371.2,105.4 372.2,103.0 371.3,103.3 371.3,100.5 372.7,99.4 373.8,101.9 373.8,101.8 371.8,98.2 372.9,95.7 374.7,94.6 375.3,96.7 375.4,92.9 375.1,96.3 374.6,93.5 374.2,92.0 375.0,91.6 373.8,89.8 374.1,89.7 375.4,89.7 373.1,88.7 372.8,86.7 374.4,87.0 373.2,83.3 374.3,85.2 375.0,84.6 378.0,83.8 377.5,84.2 379.0,83.6 379.5,84.2 380.9,85.2 382.3,84.4 384.4,85.5 383.0,85.6 384.0,86.0 386.4,84.3 386.7,86.0 386.6,87.0 386.8,88.3 387.5,87.5 387.4,90.6 388.0,91.0 387.2,90.8 386.4,94.1 386.1,95.1 386.3,94.7 387.5,94.4 387.1,97.6 387.0,96.5 386.3,99.7 386.4,99.7 387.7,99.3 387.4,100.8 387.4,101.6 387.5,102.5 387.5,111.8 387.4,121.4 387.4,130.0 387.5,135.6 387.6,140.8 387.7,145.6 387.8,150.0 387.9,152.6 388.1,154.8 388.3,157.1 388.4,160.0 388.6,168.0 388.8,178.1 389.0,189.1 389.2,200.0 389.4,212.1 389.5,224.7 389.7,237.4 389.9,250.0 390.2,263.0 390.4,276.4 390.7,289.1 391.0,300.0 391.1,305.6 391.2,310.6 391.3,315.2 391.5,320.0 391.7,324.9 392.0,329.6 392.3,334.6 392.5,340.0 392.7,349.3 392.9,359.9 393.2,370.1 393.2,371.0 393.2,371.8 393.3,372.7 393.3,373.6 393.3,374.5 393.4,375.4 393.4,376.2 393.5,377.1 393.7,378.8 392.5,377.8 395.0,378.6 393.5,380.7 394.5,383.3 394.5,383.1 393.7,381.6 393.9,384.1 394.7,384.9 393.2,386.3 397.0,387.4 397.2,385.6 396.5,386.6 398.3,385.8 400.8,386.7 398.7,385.7 401.1,385.9 402.3,382.6 402.8,385.0 401.2,383.2 400.4,380.2 399.3,382.9 402.4,379.7 401.4,378.9 401.7,376.2 401.1,377.1 401.1,376.2 401.2,375.4 401.2,374.5 401.3,373.6 401.3,372.7 401.4,371.8 401.4,371.0 401.5,370.1 402.1,359.9 402.8,349.3 403.4,340.0 403.7,334.5 403.9,329.4 404.2,324.6 404.6,320.0 405.1,315.9 405.6,311.8 406.3,308.1 407.0,305.0 407.4,303.6 407.9,302.4 408.4,301.3 409.7,299.0 409.7,299.5 410.8,298.5 409.6,298.3 410.5,296.7 412.0,297.2 410.7,294.8 411.6,295.2 412.3,294.6 413.8,292.2 414.2,292.2 413.0,290.2 413.5,291.1 414.6,288.7 415.9,290.1 414.9,288.4 415.6,287.9 417.4,287.0 417.5,284.1 418.7,283.3 418.6,285.3 418.3,283.0 419.8,282.7 419.4,281.2 421.4,281.4 420.1,280.5 422.4,279.5 423.0,277.6 422.0,278.7 422.5,275.5 422.8,277.0 425.2,274.0 425.5,273.1 425.8,271.6 426.2,273.3 426.4,272.3 425.9,271.1 428.1,270.2 428.5,270.2 429.1,270.1 428.3,269.7 430.1,267.8 430.4,267.1 430.6,266.1 430.9,265.4 432.5,265.7 432.4,264.7 432.6,262.9 433.6,263.1 433.4,262.7 433.5,262.4 435.7,260.9 434.7,262.2 436.5,259.5 435.8,259.7 436.7,260.1 438.6,257.6 438.4,256.4 438.6,257.3 440.9,256.3 441.8,255.1 440.3,256.4 441.7,254.1 442.6,254.6 442.7,252.5 444.3,253.7 444.9,251.7 446.4,252.1 446.3,253.1 446.0,251.4 447.7,251.3 448.2,249.5 449.2,250.1 450.5,250.8 453.0,249.7 452.8,249.6 454.2,249.1 455.0,247.8 456.6,247.1 458.0,246.4 459.6,245.8 461.5,245.1 466.0,243.9 471.4,242.8 477.3,241.7 483.0,240.8 488.5,240.1 494.0,239.6 499.5,239.2 505.0,238.8 510.1,238.4 515.2,238.1 520.3,237.9 525.9,237.6 533.9,237.3 542.7,237.1 551.6,236.8 560.0,236.7 566.7,236.6 573.2,236.6 579.6,236.6 586.0,236.6" stroke="#14d414" stroke-width="1.3" stroke-dasharray="2.6 1.8"/>
<polyline points="84.0,236.0 88.0,236.0 91.9,236.0 95.9,236.0 100.0,236.0 104.8,236.0 109.9,236.0 114.9,236.0 120.0,236.0 125.1,236.0 130.2,236.0 135.2,236.0 140.0,236.0 143.9,236.0 147.7,236.0 151.4,236.0 155.0,236.0 158.3,235.9 161.7,235.8 164.8,235.8 167.0,236.0 168.1,236.3 169.0,236.8 170.2,237.4 171.4,238.3 172.4,239.3 173.5,240.6 174.6,242.0 175.6,243.5 176.7,245.4 177.8,247.5 178.8,249.6 179.7,251.8 180.6,254.1 181.4,256.4 182.1,258.8 182.8,261.2 183.5,263.7 184.2,266.3 184.8,268.9 185.4,271.5 186.0,274.1 186.5,276.8 187.1,279.4 187.5,281.9 187.8,283.9 188.0,285.8 188.3,287.8 188.6,290.0 189.3,293.9 189.4,294.8 191.9,293.3 187.3,299.7 188.3,295.0 190.8,297.3 192.2,297.5 192.8,298.9 191.1,303.8 191.7,304.6 192.0,299.9 193.1,304.3 190.4,302.6 193.3,306.0 194.0,308.2 194.3,307.7 193.1,308.9 191.1,312.0 191.6,311.8 195.1,311.9 191.1,313.9 194.0,310.6 191.0,313.6 191.1,316.9 193.7,315.1 193.4,316.8 196.2,315.3 193.6,318.0 193.5,318.9 194.9,318.8 195.8,320.3 193.1,324.2 194.7,321.4 195.2,325.5 198.3,323.8 195.7,322.0 198.5,323.3 196.9,325.2 196.2,326.5 196.0,325.6 198.4,331.9 199.4,329.0 200.0,328.9 199.0,334.8 202.0,333.1 202.1,334.1 200.8,335.4 203.6,337.2 201.3,337.9 202.6,336.3 203.8,340.1 203.3,341.7 200.6,339.6 204.1,339.4 202.1,342.5 203.9,340.6 202.1,345.9 204.0,341.2 203.6,342.8 207.2,343.1 204.4,343.4 205.7,344.9 205.3,349.1 208.5,350.5 204.2,348.4 208.6,347.0 205.5,350.8 206.7,353.3 208.6,352.2 206.4,351.6 206.8,351.3 209.1,352.9 210.5,356.9 206.5,356.9 209.6,355.0 209.3,355.8 211.1,356.6 210.7,363.9 212.1,359.9 210.8,360.2 210.1,365.8 212.9,361.2 210.9,366.1 210.2,368.0 214.1,367.3 211.7,370.1 212.8,366.8 211.8,367.4 214.9,370.4 214.4,373.2 216.1,369.9 213.4,375.1 215.4,372.8 215.1,372.4 212.8,372.3 214.2,374.2 215.1,379.7 213.5,377.8 217.3,378.9 215.9,380.8 213.6,382.9 217.4,382.9 218.7,379.8 215.4,381.6 218.3,387.6 220.9,385.2 219.9,388.5 219.1,390.8 223.3,389.6 224.5,390.2 224.6,387.0 223.7,386.1 223.1,389.4 224.4,382.8 224.6,382.5 225.3,383.0 224.1,383.0 225.4,381.3 227.5,380.1 226.0,380.5 226.1,379.6 226.2,378.7 226.5,374.5 226.7,370.0 226.9,361.2 226.8,350.8 226.7,340.0 226.7,330.0 226.7,321.8 226.8,313.7 226.9,306.3 227.0,300.0 227.1,297.3 227.3,295.1 227.4,292.8 227.6,290.0 227.9,281.9 228.1,271.7 228.3,260.6 228.5,250.0 228.7,239.9 228.9,229.6 229.0,219.6 229.2,210.0 229.3,202.3 229.4,195.1 229.6,187.8 229.7,180.0 229.9,169.1 230.2,157.2 230.4,145.5 230.6,135.0 230.7,128.0 230.8,121.3 230.9,115.3 231.0,110.0 231.1,107.2 231.1,104.8 231.2,102.5 231.3,102.2 231.8,100.7 230.8,100.6 231.3,98.8 230.9,97.9 231.2,97.0 230.9,97.3 231.8,95.1 231.4,95.2 231.5,93.2 231.3,92.7 232.0,92.2 231.6,91.4 231.2,90.6 232.1,89.8 231.7,88.4 231.4,87.3 231.7,86.9 232.8,85.3 233.2,85.0 234.7,83.7 235.9,84.3 236.1,83.7 237.5,84.7 238.0,84.1 239.7,84.3 239.9,86.2 240.4,87.0 240.2,87.9 240.8,87.8 240.6,89.3 240.6,90.2 240.2,91.1 240.3,92.5 240.3,93.7 240.5,93.6 240.3,94.5 240.7,95.3 240.6,96.5 240.8,97.1 240.7,98.8 240.2,99.0 240.3,100.7 240.2,100.4 240.5,102.9 240.0,104.2 240.6,103.6 240.0,105.0 240.6,105.5 240.0,107.1 240.3,108.0 240.6,109.4 240.8,109.5 240.2,111.6 240.1,111.1 240.1,113.4 240.9,114.5 241.1,114.2 240.9,115.9 240.6,117.0 240.9,116.3 240.9,118.3 240.6,119.9 241.9,120.1 241.9,121.4 241.4,121.1 242.1,123.4 241.3,123.2 240.8,124.4 242.1,124.8 241.2,126.1 242.0,126.1 241.2,128.0 240.9,129.2 241.3,130.1 241.6,129.7 240.9,130.5 241.3,132.6 242.2,133.2 241.4,134.2 242.1,134.5 241.1,135.5 241.3,135.9 241.6,136.5 242.5,137.8 242.5,139.5 241.1,140.7 242.4,140.8 242.5,141.5 241.2,141.7 241.7,143.9 242.5,143.3 241.8,144.1 241.7,145.4 242.0,145.9 242.5,146.9 242.9,148.3 242.2,149.7 242.2,149.5 241.9,150.4 242.2,152.1 242.7,153.3 242.9,153.2 243.3,155.4 244.4,155.8 243.4,156.5 243.6,158.9 244.8,158.2 243.5,159.5 244.5,159.6 244.3,161.7 243.8,162.4 245.0,163.4 244.8,163.5 244.9,163.7 245.1,164.7 244.9,165.2 244.8,166.1 245.5,167.3 245.7,168.7 245.3,168.8 246.0,170.7 246.3,171.1 246.3,171.0 246.1,173.3 246.3,172.7 246.6,175.0 246.3,174.3 247.1,176.7 247.2,176.3 248.0,176.8 247.5,178.6 248.6,179.9 248.1,179.6 248.4,180.1 248.5,182.2 249.9,182.0 248.7,183.7 250.4,184.6 249.8,185.2 250.7,186.0 250.5,187.3 251.4,186.6 251.2,187.2 251.5,189.6 252.1,189.8 253.0,189.8 252.8,191.5 253.5,192.7 254.8,193.7 254.6,194.3 255.2,195.6 255.8,195.6 256.0,196.0 257.1,196.6 257.9,198.1 258.6,198.8 258.5,198.9 258.1,200.2 259.7,201.0 260.2,200.3 260.6,201.5 260.6,203.3 261.1,203.2 261.0,203.4 261.7,204.1 262.7,204.5 262.5,205.2 264.1,207.7 264.6,207.5 264.1,208.6 264.6,207.9 265.7,210.1 265.9,210.7 266.6,211.6 267.8,212.2 268.8,212.8 268.2,212.8 269.4,213.9 269.5,214.3 270.3,214.2 271.3,215.4 271.9,216.1 273.9,217.9 275.8,219.6 277.8,221.2 279.8,222.7 281.7,224.1 283.0,225.0 284.2,225.9 285.5,226.7 287.0,227.5 289.9,229.0 293.2,230.6 296.7,232.1 300.0,233.2 302.6,233.8 305.1,234.2 307.6,234.5 310.0,234.7 312.0,234.8 314.0,234.9 315.9,234.9 318.0,234.9 320.7,235.1 323.5,235.4 326.3,235.5 328.7,235.2 330.2,234.6 331.6,233.7 332.8,232.7 333.9,231.5 335.1,229.7 336.2,227.7 337.1,225.5 338.0,223.2 338.9,220.7 339.7,218.1 340.4,215.5 341.2,212.8 342.0,210.0 342.7,207.1 343.5,204.3 344.3,201.4 345.2,198.6 346.2,195.9 347.1,193.1 347.9,190.0 348.7,185.1 349.2,179.5 349.8,174.2 349.9,173.3 349.9,174.0 350.4,171.0 349.3,170.2 350.1,168.9 350.2,167.2 350.7,168.3 352.4,167.0 354.1,165.8 351.4,163.6 353.2,164.2 353.5,160.1 353.6,162.0 355.0,160.1 353.1,157.2 354.4,159.8 353.2,157.8 355.3,157.1 354.2,153.9 353.6,154.0 357.3,153.7 357.9,154.8 356.6,152.1 356.8,153.1 356.3,149.1 358.8,150.5 357.1,148.7 356.3,148.7 359.3,147.6 359.3,147.9 358.2,146.7 361.0,146.3 358.4,145.3 360.5,145.0 361.0,144.9 362.4,140.8 360.8,139.2 363.1,138.7 361.2,140.3 361.5,137.4 362.1,136.8 362.3,138.4 361.8,136.2 363.3,135.8 364.1,136.7 365.0,132.3 363.3,131.2 364.4,131.7 365.1,131.3 365.2,128.3 364.7,129.3 365.7,126.9 363.1,128.9 364.2,126.9 364.8,128.7 365.9,127.2 367.1,126.4 366.0,122.7 366.6,124.7 368.4,121.8 369.0,122.3 366.1,120.7 369.4,117.1 368.2,119.1 369.1,117.7 367.8,115.6 371.2,115.3 370.0,115.6 369.8,113.3 371.1,114.2 372.8,109.6 371.6,111.6 373.3,109.7 372.4,109.5 372.7,109.9 374.0,109.5 370.9,107.4 372.0,104.4 371.0,106.4 374.1,103.7 372.7,101.2 374.5,102.8 371.6,100.9 374.9,98.5 372.6,98.0 372.7,95.9 373.8,95.6 374.1,95.8 374.8,96.2 374.9,92.4 374.7,94.4 372.8,89.7 372.1,92.5 375.4,88.1 372.6,88.8 372.0,89.1 375.1,89.2 372.6,88.7 375.4,84.2 376.2,87.1 377.0,85.9 377.5,84.5 375.9,84.5 378.1,82.8 378.3,84.9 381.2,82.3 380.1,84.4 381.9,85.0 383.3,84.6 383.1,85.2 384.2,84.5 385.7,84.5 385.6,85.7 385.6,85.6 386.0,88.9 386.6,90.5 388.0,88.9 387.9,92.4 387.0,91.8 387.6,92.9 386.6,94.6 386.5,94.7 386.1,95.3 388.0,95.6 386.5,97.2 386.8,96.8 386.3,98.3 388.1,100.8 387.4,100.8 387.4,101.6 387.5,102.5 387.5,111.8 387.4,121.4 387.4,130.0 387.5,135.6 387.6,140.8 387.7,145.6 387.8,150.0 387.9,152.6 388.1,154.8 388.3,157.1 388.4,160.0 388.6,168.0 388.8,178.1 389.0,189.1 389.2,200.0 389.4,212.1 389.5,224.7 389.7,237.4 389.9,250.0 390.2,263.0 390.4,276.4 390.7,289.1 391.0,300.0 391.1,305.6 391.2,310.6 391.3,315.2 391.5,320.0 391.7,324.9 392.0,329.6 392.3,334.6 392.5,340.0 392.7,349.3 392.9,359.9 393.2,370.1 393.2,371.0 393.2,371.8 393.3,372.7 393.3,373.6 393.3,374.5 393.4,375.4 393.4,376.2 393.5,377.1 394.6,378.9 395.3,377.9 394.3,379.7 395.2,380.6 394.3,382.9 395.2,383.7 392.9,384.0 394.7,386.3 392.9,386.4 395.3,385.3 394.4,387.7 397.0,386.8 397.9,386.1 398.6,387.7 400.4,388.4 399.0,387.0 399.8,385.5 401.8,385.3 399.5,383.5 400.0,382.6 401.1,381.7 401.9,380.0 400.9,378.8 399.9,379.5 399.8,379.3 401.1,377.1 401.1,376.2 401.2,375.4 401.2,374.5 401.3,373.6 401.3,372.7 401.4,371.8 401.4,371.0 401.5,370.1 402.1,359.9 402.8,349.3 403.4,340.0 403.7,334.5 403.9,329.4 404.2,324.6 404.6,320.0 405.1,315.9 405.6,311.8 406.3,308.1 407.0,305.0 407.4,303.6 407.9,302.4 408.4,301.3 408.7,298.8 410.2,297.6 409.4,298.7 409.1,297.9 411.0,298.0 410.8,296.7 412.9,294.9 411.0,293.6 413.4,291.7 413.4,292.5 414.1,291.2 415.1,289.6 414.2,289.5 415.0,288.4 415.1,288.4 416.9,286.3 415.8,285.9 417.4,287.0 416.1,286.3 418.8,284.5 418.6,284.7 419.9,282.2 419.9,280.9 419.5,282.8 420.7,280.8 420.8,279.8 420.3,279.4 423.1,277.2 421.4,277.9 424.0,276.5 422.7,276.3 424.7,274.1 425.7,274.2 426.2,272.3 425.6,273.1 426.9,273.0 428.0,271.9 426.1,270.5 428.3,270.8 427.8,267.9 429.0,267.7 429.3,267.1 430.8,265.8 430.5,267.9 431.3,264.8 431.6,266.4 432.4,265.9 433.5,263.6 432.3,263.9 433.8,263.6 434.3,262.7 434.1,262.1 436.6,261.7 436.9,260.6 436.0,258.9 436.8,258.2 438.2,257.8 439.0,259.0 440.5,255.5 440.2,256.8 440.5,256.6 442.3,254.5 442.4,253.7 442.6,253.8 444.2,255.1 445.0,253.3 445.3,253.2 445.6,251.1 445.6,253.3 447.1,250.2 447.5,249.7 448.0,250.0 449.4,248.3 451.0,250.8 451.9,248.7 452.7,247.9 453.6,247.2 455.0,247.8 456.6,247.1 458.0,246.4 459.6,245.8 461.5,245.1 466.0,243.9 471.4,242.8 477.3,241.7 483.0,240.8 488.5,240.1 494.0,239.6 499.5,239.2 505.0,238.8 510.1,238.4 515.2,238.1 520.3,237.9 525.9,237.6 533.9,237.3 542.7,237.1 551.6,236.8 560.0,236.7 566.7,236.6 573.2,236.6 579.6,236.6 586.0,236.6" stroke="#14d414" stroke-width="1.3"/>
<polyline points="84.0,236.3 88.0,236.3 91.9,236.3 95.9,236.3 100.0,236.3 104.8,236.3 109.9,236.3 114.9,236.3 120.0,236.3 125.1,236.3 130.2,236.3 135.2,236.3 140.0,236.3 144.0,236.3 147.8,236.3 151.5,236.3 155.0,236.3 158.1,236.2 161.2,236.1 163.9,236.1 166.0,236.3 167.1,236.7 168.0,237.2 168.8,237.8 169.6,238.4 170.4,239.3 171.2,240.6 172.0,242.1 172.8,243.9 173.5,245.6 174.3,247.6 175.1,249.7 175.9,251.8 176.6,253.9 177.2,255.7 177.7,257.5 178.2,259.3 178.7,261.2 179.3,263.6 179.8,266.2 180.3,268.9 180.8,271.5 181.2,274.1 181.6,276.8 181.9,279.4 182.2,281.9 182.5,284.0 182.7,286.0 182.9,287.9 183.2,290.0 183.5,292.4 183.9,294.8 184.2,297.3 184.6,300.0 185.1,303.8 185.6,307.8 186.1,312.0 186.6,316.0 187.1,319.6 187.6,323.2 188.0,326.7 188.5,330.0 188.9,332.6 189.3,335.1 189.6,337.6 190.0,340.0 190.4,342.4 190.7,344.7 191.1,347.0 191.5,349.4 191.9,352.1 192.4,354.8 192.8,357.6 193.3,360.3 193.7,362.8 194.1,365.2 194.6,367.6 195.0,370.0 195.5,372.5 196.0,375.1 196.5,377.6 197.0,380.0 197.4,382.3 197.9,384.8 198.3,386.8 198.8,387.6 199.3,387.0 199.9,385.5 200.5,384.0 201.0,383.0 201.5,381.9 202.0,380.9 202.5,380.0 203.5,379.0 204.5,378.0 205.1,377.1 205.5,376.0 206.0,373.9 206.3,371.1 206.7,368.0 207.0,365.0 207.3,362.3 207.4,359.7 207.6,357.0 207.9,354.2 208.3,350.7 208.7,347.1 209.2,343.4 209.7,340.0 210.1,337.4 210.6,335.1 211.1,332.7 211.5,330.0 211.9,325.8 212.1,321.2 212.4,316.4 212.7,311.6 213.2,306.3 213.8,300.9 214.4,295.4 215.0,290.0 215.5,285.1 216.0,280.4 216.5,275.4 217.0,270.0 217.8,261.1 218.7,251.0 219.6,240.9 220.4,232.0 221.0,226.6 221.5,221.7 222.0,216.9 222.5,212.0 223.0,206.4 223.5,200.6 224.0,195.1 224.5,190.0 225.0,186.9 225.4,184.1 225.9,181.3 226.4,178.0 227.0,171.5 227.7,163.8 228.3,156.2 228.9,150.0 229.3,147.4 229.7,145.2 230.1,143.1 230.5,141.0 230.9,138.7 231.3,136.3 231.8,134.1 232.4,132.5 233.3,131.4 234.2,131.0 234.7,131.5 235.2,132.5 235.6,133.8 236.0,135.0 236.4,136.1 236.7,137.3 237.0,138.5 237.3,140.0 237.9,143.3 238.5,147.2 239.1,151.4 239.7,155.6 240.3,160.2 240.9,165.0 241.4,169.7 242.0,174.3 242.5,178.4 242.9,182.4 243.5,186.3 244.3,189.8 245.2,192.4 246.3,194.7 247.6,197.0 249.0,199.2 250.7,201.6 252.6,204.0 254.7,206.3 256.8,208.5 259.0,210.6 261.4,212.6 263.8,214.5 266.2,216.3 268.5,218.0 270.8,219.7 273.1,221.2 275.5,222.6 277.7,223.7 280.0,224.6 282.3,225.5 284.8,226.4 288.4,227.7 292.3,229.0 296.3,230.1 300.0,231.1 302.7,231.6 305.2,232.0 307.6,232.3 310.0,232.6 312.0,232.8 314.0,232.9 315.9,233.1 318.0,233.2 320.7,233.6 323.6,234.1 326.4,234.4 328.7,234.1 330.0,233.5 331.0,232.7 331.9,231.7 332.8,230.5 333.9,228.6 334.9,226.2 335.7,223.7 336.5,221.2 337.2,218.7 337.9,216.1 338.5,213.4 339.1,210.8 339.7,208.2 340.2,205.6 340.7,203.0 341.2,200.4 341.8,197.9 342.5,195.4 343.1,192.8 343.7,190.0 344.4,185.5 345.0,180.5 345.6,175.3 346.2,170.0 347.0,164.2 347.8,158.2 348.6,152.2 349.3,146.3 349.7,140.8 349.9,135.4 350.2,130.0 350.6,125.0 351.2,121.0 351.9,117.1 352.7,113.4 353.5,109.6 354.2,105.9 355.0,102.1 355.7,98.5 356.3,95.0 356.6,92.1 356.7,89.1 357.0,86.5 358.0,84.8 359.6,84.0 361.7,83.8 363.8,84.0 365.5,84.8 366.7,87.4 367.1,91.4 367.2,95.9 367.5,100.0 367.9,102.9 368.4,105.7 368.8,108.4 369.2,111.3 369.6,114.7 369.9,118.2 370.2,121.6 370.5,125.0 370.8,127.8 371.0,130.5 371.2,133.1 371.5,136.0 371.9,139.8 372.3,143.9 372.8,147.9 373.2,151.5 373.5,153.7 373.7,155.6 374.0,157.6 374.3,160.0 374.8,165.0 375.4,170.8 375.9,177.0 376.5,183.0 377.1,188.9 377.7,194.8 378.4,200.8 379.0,206.7 379.6,212.6 380.3,218.5 380.9,224.3 381.5,230.0 382.0,235.0 382.5,239.8 382.9,244.8 383.4,250.0 384.0,257.2 384.6,265.0 385.3,272.8 385.9,280.0 386.4,285.3 386.9,290.3 387.5,295.1 388.0,300.0 388.5,305.1 389.0,310.2 389.6,315.2 390.1,320.0 390.5,324.0 391.0,327.8 391.4,331.5 392.0,335.0 392.5,338.3 393.0,341.8 393.7,344.6 394.5,346.0 395.3,345.6 396.2,344.5 397.0,344.0 397.9,344.9 398.8,346.3 399.5,347.0 400.1,345.6 400.4,342.5 400.6,338.6 400.8,335.0 401.1,331.4 401.3,327.7 401.5,323.9 401.8,320.0 402.1,315.1 402.5,309.9 402.9,304.7 403.3,300.0 403.7,296.7 404.1,293.7 404.6,290.8 405.0,288.0 405.2,285.7 405.4,283.6 405.7,281.5 406.4,279.5 407.8,277.3 409.5,275.2 411.6,273.2 413.7,271.2 416.1,269.0 418.7,266.8 421.4,264.7 424.1,262.8 426.7,261.1 429.3,259.5 431.9,258.0 434.5,256.6 437.1,255.2 439.6,253.9 442.2,252.6 444.8,251.4 447.4,250.4 450.0,249.5 452.6,248.6 455.0,247.8 456.6,247.1 458.1,246.4 459.6,245.8 461.5,245.1 466.0,243.9 471.4,242.8 477.3,241.7 483.0,240.8 488.5,240.1 494.0,239.6 499.5,239.2 505.0,238.8 510.1,238.4 515.2,238.1 520.3,237.9 525.9,237.6 534.1,237.3 543.0,237.1 551.9,236.8 560.0,236.7 565.4,236.6 570.3,236.6 575.1,236.6 580.0,236.6 585.0,236.6 590.0,236.5 595.0,236.5 600.0,236.5 604.9,236.5 609.8,236.5 614.8,236.5 620.0,236.5 626.5,236.5 633.2,236.5 640.2,236.5 647.0,236.5" stroke="#e41414" stroke-width="1.6"/>
<polygon points="230.2,145 231.6,134 233,128.8 234.6,129.6 236.6,136 238.4,145 236.6,146 233.6,140 231.6,146" fill="#e41414" stroke="none" opacity="0.9"/>
<polygon points="192,356 195,358 197.5,368 200.5,374 203.5,368 206.3,366 206,380 203.5,387 199,389 195.5,387 193.5,381 191.8,368" fill="#e41414" stroke="none" opacity="0.85"/>
<polygon points="356.6,96 358,85 365.5,85 367.3,97 365,99 361.5,92.5 358.5,99" fill="#e41414" stroke="none"/>
<polyline points="84.0,236.3 88.0,236.3 91.9,236.3 95.9,236.3 100.0,236.3 104.8,236.3 109.9,236.3 114.9,236.3 120.0,236.3 125.1,236.3 130.2,236.3 135.2,236.3 140.0,236.3 144.0,236.3 147.8,236.3 151.5,236.3 155.0,236.3 158.1,236.2 161.2,236.1 163.9,236.1 166.0,236.3 167.1,236.7 168.0,237.2 168.8,237.8 169.6,238.4 170.4,239.3 171.2,240.6 172.0,242.1 172.8,243.9 173.5,245.6 174.3,247.6 175.1,249.7 175.9,251.8 176.6,253.9 177.2,255.7 177.7,257.5 178.2,259.3 178.7,261.2 179.3,263.6 179.8,266.2 180.3,268.9 180.8,271.5 181.2,274.1 181.6,276.8 181.9,279.4 182.2,281.9 182.5,284.0 182.7,286.0 182.9,287.9 183.2,290.0 183.5,292.4 183.9,294.8 184.2,297.3 184.6,300.0 185.1,303.8 185.6,307.8 186.1,312.0 186.6,316.0 187.1,319.6 187.6,323.2 188.0,326.7 188.5,330.0 188.9,332.6 189.3,335.1 189.6,337.6 190.0,340.0 190.4,342.4 190.7,344.7 191.1,347.0 191.5,349.4 191.4,350.7 194.1,351.0 192.0,352.7 190.4,353.1 192.9,355.9 190.2,353.5 190.3,357.9 193.7,353.6 195.5,360.8 193.8,359.3 191.3,356.1 193.5,357.3 191.8,359.4 191.0,361.7 193.4,365.1 194.0,364.5 194.0,365.5 193.9,363.7 197.0,369.3 196.3,368.2 193.6,365.7 193.6,365.5 196.3,368.5 196.9,369.2 197.7,373.2 192.6,369.7 197.7,372.3 198.3,372.7 193.5,375.1 197.5,373.5 193.9,374.8 198.8,378.5 194.4,375.9 194.5,375.4 198.4,377.0 197.3,379.6 195.5,382.7 195.4,383.3 195.5,382.6 196.2,382.4 200.4,386.9 197.0,388.4 196.7,386.0 200.7,388.6 197.2,390.3 198.3,383.8 201.7,383.6 199.4,381.1 198.7,383.5 200.1,382.6 201.3,380.6 205.0,379.9 203.9,381.4 202.8,375.6 207.3,379.3 204.1,373.9 207.0,377.9 204.3,376.9 208.2,373.6 205.8,369.3 203.8,374.2 205.0,371.4 205.3,371.2 207.2,366.6 205.0,368.5 204.6,364.1 207.3,367.4 207.7,362.6 209.4,361.2 204.6,360.8 207.0,358.5 205.6,359.7 207.8,357.2 206.8,361.4 210.2,359.0 208.7,357.6 205.8,352.9 205.2,357.9 209.0,357.3 205.4,354.3 208.1,352.5 208.2,351.6 208.3,350.7 208.7,347.1 209.2,343.4 209.7,340.0 210.1,337.4 210.6,335.1 211.1,332.7 211.5,330.0 211.9,325.8 212.1,321.2 212.4,316.4 212.7,311.6 213.2,306.3 213.8,300.9 214.4,295.4 215.0,290.0 215.5,285.1 216.0,280.4 216.5,275.4 217.0,270.0 217.8,261.1 218.7,251.0 219.6,240.9 220.4,232.0 221.0,226.6 221.5,221.7 222.0,216.9 222.5,212.0 223.0,206.4 223.5,200.6 224.0,195.1 224.5,190.0 225.0,186.9 225.4,184.1 225.9,181.3 226.4,178.0 227.0,171.5 227.7,163.8 228.3,156.2 228.4,155.3 228.4,154.4 228.5,153.5 228.6,152.6 228.6,153.1 227.9,153.9 226.9,150.3 230.2,151.5 230.3,149.5 230.7,149.9 228.8,147.4 231.6,147.4 229.5,145.9 231.8,143.5 230.9,141.3 230.9,141.7 228.7,140.7 233.3,141.0 232.1,137.2 232.3,137.6 231.0,138.3 229.5,136.7 229.5,134.7 232.0,131.7 233.4,132.5 233.8,133.9 233.0,128.1 233.8,132.6 233.8,130.5 237.6,134.8 235.7,137.4 235.5,137.1 235.2,136.9 238.5,141.0 239.1,139.3 237.8,139.7 235.9,141.6 239.4,144.5 238.9,146.0 237.0,142.2 238.0,143.9 237.0,145.7 239.1,147.1 237.7,150.0 241.1,148.6 236.8,146.9 240.8,147.8 240.1,151.8 239.2,152.2 239.3,153.1 239.5,153.9 239.6,154.8 239.7,155.6 240.3,160.2 240.9,165.0 241.0,165.9 240.8,167.4 240.4,167.1 241.2,167.8 241.9,169.2 241.0,169.7 241.9,171.4 242.0,172.8 242.4,174.3 242.3,173.7 242.1,174.5 241.4,175.9 242.6,176.1 242.0,177.3 242.8,178.4 242.7,179.7 242.5,180.6 243.4,180.0 243.5,182.1 242.3,182.3 243.2,184.2 243.0,184.5 243.9,185.9 244.2,186.2 243.9,186.6 244.2,188.7 244.3,189.4 243.8,190.6 245.4,191.6 245.0,192.1 245.0,193.2 246.2,192.9 245.3,193.8 246.4,195.3 246.7,194.5 247.7,195.4 248.1,196.3 247.8,198.3 248.0,197.8 249.0,199.6 250.1,200.4 250.9,200.8 251.4,200.8 250.9,202.5 251.7,203.7 252.8,204.0 253.9,204.9 253.7,205.3 255.2,207.1 254.9,207.7 256.8,207.8 256.9,207.9 257.6,209.2 258.5,208.9 259.8,210.6 259.7,211.9 260.7,211.9 261.7,211.7 262.2,213.0 263.7,214.7 263.4,214.4 264.0,215.0 265.9,216.5 266.2,215.9 266.5,217.1 268.4,216.7 268.9,217.1 268.8,218.0 270.3,218.8 270.6,219.9 270.9,220.6 271.7,220.7 272.7,220.6 274.0,221.6 274.5,222.0 275.5,221.9 275.8,223.2 277.2,223.4 278.3,223.9 279.0,223.5 279.6,224.9 280.6,224.3 280.4,225.8 281.1,226.2 282.9,224.8 282.7,226.3 283.6,225.3 285.3,226.2 286.2,226.0 286.4,227.4 286.7,226.7 288.7,228.5 289.9,227.1 290.0,228.2 290.8,228.4 291.6,228.7 292.3,229.0 296.3,230.1 300.0,231.1 302.7,231.6 305.2,232.0 307.6,232.3 310.0,232.6 312.0,232.8 314.0,232.9 315.9,233.1 318.0,233.2 320.7,233.6 323.6,234.1 326.4,234.4 328.7,234.1 330.0,233.5 331.0,232.7 331.9,231.7 332.8,230.5 333.9,228.6 334.9,226.2 335.7,223.7 336.5,221.2 337.2,218.7 337.9,216.1 338.5,213.4 339.1,210.8 339.7,208.2 340.2,205.6 340.7,203.0 341.2,200.4 341.8,197.9 342.5,195.4 343.1,192.8 343.7,190.0 344.4,185.5 345.0,180.5 345.6,175.3 346.2,170.0 347.0,164.2 347.8,158.2 348.6,152.2 348.7,151.3 348.8,150.5 348.9,150.4 349.0,149.4 348.4,146.7 348.3,145.8 349.4,146.3 349.5,144.3 348.7,143.6 350.3,145.0 350.6,141.4 348.6,143.1 349.6,141.6 349.3,139.8 349.8,138.8 350.0,136.6 350.3,138.2 349.1,136.1 350.5,135.1 349.2,133.5 350.0,132.1 351.0,133.6 350.6,132.9 350.4,130.6 350.4,130.1 351.4,130.1 349.7,129.6 351.0,128.4 351.2,126.4 351.5,127.0 351.1,125.8 351.4,123.9 351.4,122.1 350.6,122.5 349.9,121.3 351.5,121.3 350.8,121.3 352.0,118.5 352.1,118.3 352.0,116.8 353.3,116.6 352.8,116.0 353.7,112.9 353.0,114.1 352.3,112.1 352.0,110.6 353.0,109.3 352.9,110.8 353.8,108.7 355.0,107.9 355.2,107.2 355.0,104.6 354.6,105.7 353.5,105.3 354.0,103.0 354.2,102.1 355.4,99.6 356.6,100.0 355.6,99.7 355.3,97.7 356.3,97.8 355.4,97.5 355.6,94.1 355.6,93.4 355.4,94.9 356.2,94.5 357.3,90.4 358.0,92.7 355.4,91.5 356.5,89.0 358.2,87.3 357.0,89.0 357.7,86.4 358.9,86.8 358.3,83.4 359.2,84.3 358.7,82.4 360.7,82.5 361.6,84.4 362.7,83.0 364.1,83.7 365.5,84.5 366.9,86.4 366.6,84.7 365.2,87.9 367.5,87.8 366.4,87.4 367.4,89.2 367.2,90.3 367.8,89.5 366.4,93.2 368.4,93.7 365.9,91.6 366.5,93.9 367.6,93.6 367.4,94.4 366.1,97.4 367.5,98.0 367.0,98.3 366.6,98.6 368.2,101.2 366.4,99.6 368.7,102.4 368.7,101.9 367.9,103.0 369.1,104.3 368.8,107.4 368.0,106.8 369.4,109.0 368.6,108.0 367.8,110.7 367.9,108.8 369.4,111.2 369.8,111.4 370.2,111.5 368.7,114.4 368.4,114.0 370.3,116.2 369.1,115.1 369.4,118.1 369.5,116.8 370.6,119.3 371.3,121.5 371.3,120.6 371.1,120.9 369.8,122.1 371.6,124.7 369.7,123.7 370.1,124.5 370.3,125.5 369.8,127.1 371.6,127.9 371.8,128.9 370.0,130.5 372.1,129.7 369.7,131.4 371.3,132.5 372.6,133.7 372.2,132.5 371.4,135.0 371.5,136.0 371.9,139.8 372.3,143.9 372.8,147.9 372.9,148.8 373.0,149.7 373.2,151.3 372.4,150.5 373.8,153.6 372.7,154.0 372.9,155.3 374.0,155.0 373.3,157.3 374.1,158.3 374.0,158.4 375.2,160.4 374.4,160.9 374.9,162.2 375.4,162.3 375.3,163.7 375.4,164.9 375.5,165.9 375.8,166.1 375.0,167.1 375.6,167.3 375.0,167.4 375.7,170.3 375.0,169.1 374.8,170.6 375.0,172.8 374.7,172.1 374.9,173.8 376.2,173.5 374.9,175.1 376.0,177.1 375.0,176.0 375.4,177.1 375.6,179.2 376.4,178.9 375.6,179.9 375.7,181.9 376.1,182.3 377.1,183.0 376.1,184.8 377.5,184.3 376.9,186.6 376.8,185.7 376.1,188.3 377.6,187.8 377.2,188.9 376.8,190.9 377.6,190.0 376.4,191.4 377.2,193.0 378.0,193.4 377.0,193.2 377.4,194.3 378.5,195.7 378.2,197.7 377.6,197.5 377.4,198.9 377.2,199.9 378.9,200.7 378.4,200.8 379.0,206.7 379.6,212.6 380.3,218.5 380.9,224.3 381.5,230.0 382.0,235.0 382.5,239.8 382.9,244.8 383.4,250.0 384.0,257.2 384.6,265.0 385.3,272.8 385.9,280.0 386.4,285.3 386.9,290.3 387.5,295.1 388.0,300.0 388.5,305.1 389.0,310.2 389.6,315.2 389.7,316.0 389.7,316.8 389.8,317.6 387.9,317.0 391.1,316.8 390.0,319.8 392.4,321.5 392.0,320.8 391.8,322.5 392.5,321.5 392.2,323.2 391.0,326.0 389.2,328.8 390.1,326.7 389.1,327.5 391.1,330.9 390.7,331.7 389.6,330.8 391.4,335.2 393.3,334.2 389.5,333.4 393.0,333.4 392.4,335.6 389.9,339.6 393.8,335.7 393.1,337.1 392.0,339.4 391.8,339.1 392.4,341.9 391.9,340.0 394.3,341.7 395.6,344.1 394.7,343.6 396.1,343.6 393.6,343.1 397.0,345.8 395.5,343.4 399.5,345.4 396.4,344.0 397.1,344.1 399.1,344.4 402.1,345.1 400.3,345.4 401.6,345.4 399.9,341.4 400.0,338.6 400.0,341.7 402.9,341.3 401.4,339.3 398.3,336.7 399.9,337.7 398.9,335.2 400.8,336.7 402.4,334.8 399.3,334.8 402.9,332.6 400.4,331.4 399.4,331.8 403.5,329.7 402.3,330.7 399.9,330.4 402.0,325.0 399.4,324.3 401.9,326.1 400.7,326.5 400.9,322.7 399.9,324.8 400.0,323.4 402.0,320.4 402.1,317.8 403.9,321.3 402.0,317.5 402.0,316.7 402.1,315.9 402.1,315.1 402.5,309.9 402.9,304.7 403.3,300.0 403.7,296.7 404.1,293.7 404.6,290.8 405.0,288.0 405.2,285.7 406.1,285.0 404.4,284.6 405.0,283.8 405.1,281.7 406.9,279.5 406.5,278.1 405.7,277.7 408.5,279.4 408.2,276.7 408.8,277.4 408.6,276.2 410.3,273.7 409.5,274.4 410.0,273.5 411.8,272.2 412.3,271.8 413.2,271.3 414.1,269.7 414.7,269.5 416.1,270.4 415.4,269.3 416.4,269.6 417.4,269.3 417.4,269.5 418.9,268.5 418.5,266.6 419.6,267.6 420.1,265.9 420.6,266.6 420.9,263.3 422.7,265.5 423.3,264.1 424.1,262.7 424.3,261.4 424.0,262.1 425.8,261.3 425.5,261.7 427.6,259.7 427.9,259.7 428.6,258.2 431.2,260.5 431.4,259.7 431.7,259.0 432.0,258.4 433.8,258.4 433.5,257.5 434.4,256.3 437.4,254.1 436.4,254.6 437.5,253.4 439.8,255.3 439.4,253.4 440.7,252.0 440.1,254.3 441.7,252.6 444.2,253.7 443.9,250.9 444.3,252.8 446.7,250.1 447.4,250.3 447.3,249.3 449.2,251.7 448.4,250.2 449.2,250.7 449.7,248.0 452.3,248.3 453.6,249.8 454.0,247.2 454.7,249.5 454.9,246.5 455.8,247.5 456.6,247.1 458.1,246.4 459.6,245.8 461.5,245.1 466.0,243.9 471.4,242.8 477.3,241.7 483.0,240.8 488.5,240.1 494.0,239.6 499.5,239.2 505.0,238.8 510.1,238.4 515.2,238.1 520.3,237.9 525.9,237.6 534.1,237.3 543.0,237.1 551.9,236.8 560.0,236.7 565.4,236.6 570.3,236.6 575.1,236.6 580.0,236.6 585.0,236.6 590.0,236.5 595.0,236.5 600.0,236.5 604.9,236.5 609.8,236.5 614.8,236.5 620.0,236.5 626.5,236.5 633.2,236.5 640.2,236.5 647.0,236.5 647.0,236.5 681.0,236.5" stroke="#e41414" stroke-width="1" stroke-dasharray="2.2 1.6"/>
<polyline points="647.0,236.5 681.0,236.5" stroke="#e41414" stroke-width="1.1"/>
<polyline points="84.0,236.3 88.0,236.3 91.9,236.3 95.9,236.3 100.0,236.3 104.8,236.3 109.9,236.3 114.9,236.3 120.0,236.3 125.1,236.3 130.2,236.3 135.2,236.3 140.0,236.3 144.0,236.3 147.8,236.3 151.5,236.3 155.0,236.3 158.1,236.2 161.2,236.1 163.9,236.1 166.0,236.3 167.1,236.7 168.0,237.2 168.8,237.8 169.6,238.4 170.4,239.3 171.2,240.6 172.0,242.1 172.8,243.9 173.5,245.6 174.3,247.6 175.1,249.7 175.9,251.8 176.6,253.9 177.2,255.7 177.7,257.5 178.2,259.3 178.7,261.2 179.3,263.6 179.8,266.2 180.3,268.9 180.8,271.5 181.2,274.1 181.6,276.8 181.9,279.4 182.2,281.9 182.5,284.0 182.7,286.0 182.9,287.9 183.2,290.0 183.5,292.4 183.9,294.8 184.2,297.3 184.6,300.0 185.1,303.8 185.6,307.8 186.1,312.0 186.6,316.0 187.1,319.6 187.6,323.2 188.0,326.7 188.5,330.0 188.9,332.6 189.3,335.1 189.6,337.6 190.0,340.0 190.4,342.4 190.7,344.7 191.1,347.0 191.5,349.4 189.8,351.6 192.5,351.0 190.4,354.1 193.8,353.1 192.3,352.1 189.7,354.0 193.0,352.8 194.3,354.9 191.4,354.5 195.7,360.1 195.2,360.2 190.8,359.1 193.4,358.5 196.0,361.0 191.8,364.9 191.8,366.5 193.7,364.7 193.3,365.1 192.6,362.8 196.4,365.0 196.1,365.6 197.3,371.1 196.2,371.0 195.4,371.6 193.1,370.7 197.1,369.6 197.8,375.2 195.2,372.5 195.5,373.5 198.7,374.3 193.6,373.2 197.5,380.1 196.5,377.5 196.9,380.1 195.3,379.9 197.3,380.8 195.5,378.9 196.6,385.2 196.7,383.8 196.7,381.3 195.5,386.9 199.6,384.9 199.3,388.0 201.0,390.7 198.8,390.3 202.4,386.1 202.3,384.7 199.8,382.3 203.0,380.7 199.1,384.0 203.4,380.8 204.3,377.0 202.2,377.5 204.1,375.8 202.7,376.0 207.7,379.3 207.1,374.8 204.6,377.0 206.2,374.5 203.7,370.0 208.2,373.1 208.5,370.7 206.2,369.5 208.6,366.7 207.0,365.4 208.4,362.7 208.0,368.1 204.5,364.7 208.0,365.6 207.7,360.7 206.8,364.6 209.6,358.1 205.2,356.9 204.9,358.4 205.6,360.4 208.5,354.5 207.9,354.9 207.8,353.2 206.1,352.1 207.3,354.8 208.1,352.5 208.2,351.6 208.3,350.7 208.7,347.1 209.2,343.4 209.7,340.0 210.1,337.4 210.6,335.1 211.1,332.7 211.5,330.0 211.9,325.8 212.1,321.2 212.4,316.4 212.7,311.6 213.2,306.3 213.8,300.9 214.4,295.4 215.0,290.0 215.5,285.1 216.0,280.4 216.5,275.4 217.0,270.0 217.8,261.1 218.7,251.0 219.6,240.9 220.4,232.0 221.0,226.6 221.5,221.7 222.0,216.9 222.5,212.0 223.0,206.4 223.5,200.6 224.0,195.1 224.5,190.0 225.0,186.9 225.4,184.1 225.9,181.3 226.4,178.0 227.0,171.5 227.7,163.8 228.3,156.2 228.4,155.3 228.4,154.4 228.5,153.5 228.6,152.6 229.0,149.0 229.8,153.1 230.2,151.7 226.7,148.9 227.1,149.8 227.7,148.7 228.3,147.5 228.8,142.4 229.3,143.0 232.0,141.9 230.3,142.4 232.7,138.6 231.2,139.9 232.0,141.5 230.1,139.1 231.3,137.4 229.2,138.2 233.8,134.3 230.9,137.1 230.2,130.8 230.4,134.4 234.5,131.1 234.8,128.1 235.4,131.2 235.3,131.9 235.1,132.1 233.8,134.6 235.2,137.4 238.2,138.6 236.8,137.0 236.7,139.9 238.1,143.6 235.6,141.5 237.7,143.7 239.8,144.9 238.7,145.8 239.0,147.4 239.3,147.3 237.3,149.7 238.1,148.7 240.3,151.6 241.2,146.7 238.1,149.4 238.6,149.3 239.2,152.2 239.3,153.1 239.5,153.9 239.6,154.8 239.7,155.6 240.3,160.2 240.9,165.0 241.0,165.9 241.2,166.0 240.9,168.7 241.7,168.7 240.8,170.6 241.9,170.0 241.4,171.8 242.1,172.0 242.6,173.0 241.6,175.0 241.5,175.5 241.7,176.1 241.9,176.5 243.1,177.5 242.4,178.6 242.2,178.5 242.5,179.5 242.2,181.7 242.1,182.2 243.6,182.8 242.3,183.4 242.4,184.6 243.6,184.8 242.7,186.4 243.0,186.8 243.8,188.8 243.9,188.2 244.8,190.4 244.7,189.8 244.4,191.3 245.3,191.8 246.1,193.8 246.7,194.7 245.6,194.9 246.1,196.3 247.6,196.7 247.1,196.1 248.6,197.9 248.7,198.4 249.5,198.9 249.2,199.7 249.8,201.1 251.3,200.8 250.7,202.4 252.3,202.6 252.3,203.1 252.6,204.8 254.3,205.8 254.1,205.5 256.1,207.1 255.9,208.1 257.2,208.5 256.9,209.9 257.8,209.0 258.8,210.7 260.0,210.6 260.9,211.9 260.8,213.3 262.7,214.0 263.3,213.3 264.2,215.3 264.6,215.9 266.1,215.5 266.9,217.2 267.4,215.9 267.5,217.7 268.7,218.5 269.5,217.9 270.7,219.2 271.4,219.1 272.4,220.3 272.8,221.2 273.7,220.9 273.3,221.5 274.2,222.2 276.0,222.3 275.7,222.0 276.9,223.5 277.0,224.0 278.0,223.2 279.9,224.4 280.6,224.7 280.1,224.4 281.4,225.5 282.7,226.0 283.4,225.3 283.9,225.9 284.8,225.9 285.8,226.6 285.9,227.7 287.6,227.9 288.8,228.1 290.0,227.7 290.0,228.2 290.8,228.4 291.6,228.7 292.3,229.0 296.3,230.1 300.0,231.1 302.7,231.6 305.2,232.0 307.6,232.3 310.0,232.6 312.0,232.8 314.0,232.9 315.9,233.1 318.0,233.2 320.7,233.6 323.6,234.1 326.4,234.4 328.7,234.1 330.0,233.5 331.0,232.7 331.9,231.7 332.8,230.5 333.9,228.6 334.9,226.2 335.7,223.7 336.5,221.2 337.2,218.7 337.9,216.1 338.5,213.4 339.1,210.8 339.7,208.2 340.2,205.6 340.7,203.0 341.2,200.4 341.8,197.9 342.5,195.4 343.1,192.8 343.7,190.0 344.4,185.5 345.0,180.5 345.6,175.3 346.2,170.0 347.0,164.2 347.8,158.2 348.6,152.2 348.7,151.3 348.8,150.5 348.7,148.2 349.4,149.1 349.3,149.5 348.5,146.3 349.9,147.2 349.3,144.1 349.1,145.5 349.5,143.4 349.3,143.0 349.9,142.3 350.6,141.6 349.4,139.2 350.4,139.9 350.8,137.2 350.7,138.4 348.9,135.7 350.2,134.3 350.7,133.8 350.4,133.0 349.4,131.8 350.1,132.5 349.4,131.5 349.8,130.5 349.9,128.3 349.4,127.0 350.8,127.3 349.5,127.8 350.9,124.4 351.1,125.3 350.6,124.2 352.0,123.0 351.3,123.0 350.8,121.3 351.8,121.4 351.3,120.0 350.9,119.9 350.6,118.5 351.8,116.3 352.4,116.4 351.4,115.2 351.7,115.2 352.3,112.8 352.2,111.1 352.4,110.4 353.6,111.6 352.8,108.4 353.8,107.5 353.6,108.5 353.3,107.4 354.3,104.6 353.8,105.2 353.6,103.1 355.0,104.0 355.0,102.6 353.7,100.5 354.8,101.8 355.1,100.4 354.3,98.5 356.9,98.6 356.2,95.6 357.4,94.4 357.6,96.0 357.0,94.1 355.5,92.5 357.1,92.6 356.3,92.2 355.4,89.3 355.5,88.5 357.7,89.2 355.9,86.7 355.9,87.1 357.4,84.7 357.6,86.1 358.6,85.1 360.0,83.9 360.8,83.4 360.8,83.7 362.2,83.3 362.9,85.5 364.5,83.3 364.2,83.8 367.0,85.1 366.8,85.6 367.2,87.2 367.5,88.3 366.5,88.2 367.2,91.0 367.6,90.5 366.6,92.8 368.2,91.1 367.7,94.2 367.7,95.8 368.3,94.1 368.7,95.3 366.9,98.5 366.4,97.2 367.8,97.6 366.8,100.2 367.8,100.9 368.5,102.3 368.9,103.1 369.3,102.9 368.7,103.9 369.6,105.3 368.2,106.3 367.9,105.3 368.3,106.2 367.4,107.0 368.8,110.3 367.8,110.8 368.1,111.3 368.7,111.9 370.0,112.7 369.2,114.6 368.5,114.1 370.2,116.7 371.1,115.5 370.2,116.6 370.5,119.4 368.9,118.5 371.3,119.4 370.5,121.9 369.6,122.7 368.8,121.9 369.4,122.8 369.6,122.5 371.4,123.8 370.8,126.1 371.7,128.1 371.1,126.6 371.6,127.2 372.1,128.9 370.3,129.4 370.8,132.4 372.2,133.1 371.9,132.2 370.8,133.4 371.4,135.0 371.5,136.0 371.9,139.8 372.3,143.9 372.8,147.9 372.9,148.8 373.0,149.7 373.0,151.5 374.2,150.5 374.2,153.6 373.4,154.2 374.2,153.9 374.0,156.8 374.6,157.6 373.2,158.2 374.1,159.8 373.7,160.1 373.7,161.6 374.9,160.5 374.2,161.6 374.9,163.6 373.9,165.2 375.7,164.8 375.0,165.5 375.2,166.4 374.9,168.0 374.5,167.8 375.7,168.5 374.4,170.9 374.7,170.6 375.1,171.1 375.2,172.6 374.9,173.5 374.8,173.3 375.2,174.6 375.5,175.6 376.6,177.3 376.0,178.5 376.4,178.2 376.4,180.1 376.3,181.0 376.6,182.3 376.0,182.5 377.4,183.1 377.4,182.9 377.1,184.1 377.2,185.3 376.9,185.8 376.5,188.1 377.3,188.4 376.4,188.4 378.1,189.0 377.4,191.1 377.4,191.6 378.4,193.0 377.0,193.0 377.5,194.4 378.1,194.3 378.2,195.5 377.0,196.0 377.8,196.7 378.4,199.4 379.0,199.4 379.0,199.9 378.4,200.8 379.0,206.7 379.6,212.6 380.3,218.5 380.9,224.3 381.5,230.0 382.0,235.0 382.5,239.8 382.9,244.8 383.4,250.0 384.0,257.2 384.6,265.0 385.3,272.8 385.9,280.0 386.4,285.3 386.9,290.3 387.5,295.1 388.0,300.0 388.5,305.1 389.0,310.2 389.6,315.2 389.7,316.0 389.7,316.8 389.8,317.6 390.3,320.8 387.9,318.4 389.5,319.0 389.9,318.3 391.2,324.7 389.2,321.1 389.8,325.7 389.3,326.5 389.2,326.4 391.9,327.9 389.0,330.5 392.8,328.6 392.9,330.2 389.7,329.9 393.0,331.3 389.4,330.3 390.2,333.8 392.6,333.8 391.5,337.8 391.4,336.9 390.8,336.7 390.8,335.2 391.7,336.0 392.1,340.1 393.0,341.8 392.8,338.4 394.1,341.2 394.4,345.6 393.6,342.2 393.0,344.6 393.6,343.6 394.8,346.5 397.7,346.1 398.8,345.8 397.5,345.7 396.2,347.4 399.8,344.9 399.4,345.6 401.5,345.1 401.6,347.1 401.7,342.8 399.7,345.1 402.4,339.6 399.8,342.3 401.8,338.3 400.3,341.4 398.7,336.4 401.5,339.3 402.9,335.7 402.2,337.8 400.1,332.5 399.8,334.9 399.3,332.6 403.1,329.6 401.8,330.7 403.4,329.7 401.2,331.1 402.5,325.6 402.8,326.2 403.7,328.6 401.5,324.4 400.2,322.6 400.2,321.0 402.8,319.3 402.2,321.6 402.9,320.4 403.9,317.9 400.0,318.9 402.0,317.5 402.0,316.7 402.1,315.9 402.1,315.1 402.5,309.9 402.9,304.7 403.3,300.0 403.7,296.7 404.1,293.7 404.6,290.8 405.0,288.0 405.2,285.7 404.7,286.2 406.5,284.2 406.4,281.7 405.7,281.1 405.7,280.1 406.3,280.0 405.6,278.9 406.3,279.5 407.9,277.6 407.9,277.3 409.5,277.2 409.7,274.5 410.6,273.1 411.5,273.3 412.1,272.0 412.5,271.5 411.8,271.1 414.6,270.8 414.4,271.6 416.1,269.3 416.0,270.5 416.9,268.5 416.7,269.4 416.8,267.9 418.4,268.5 418.1,267.4 418.7,265.2 420.0,266.3 421.1,266.7 420.5,264.8 422.0,263.5 423.8,262.6 422.8,261.8 424.5,263.3 424.2,263.6 426.2,260.7 427.8,262.2 427.1,261.8 427.4,259.6 429.1,261.0 429.6,258.7 430.3,259.6 431.1,259.2 432.3,257.7 434.6,256.3 434.6,257.0 435.6,255.8 436.6,255.1 436.2,253.6 438.2,255.0 439.5,253.2 440.1,253.7 440.5,254.5 441.4,252.8 442.6,251.4 444.0,252.2 442.8,251.7 445.9,252.9 445.5,250.3 447.6,250.0 446.2,249.6 448.2,250.6 448.0,249.3 450.6,249.0 450.1,249.9 451.6,249.6 452.6,249.6 453.4,249.9 455.0,248.8 455.0,248.2 455.8,247.5 456.6,247.1 458.1,246.4 459.6,245.8 461.5,245.1 466.0,243.9 471.4,242.8 477.3,241.7 483.0,240.8 488.5,240.1 494.0,239.6 499.5,239.2 505.0,238.8 510.1,238.4 515.2,238.1 520.3,237.9 525.9,237.6 534.1,237.3 543.0,237.1 551.9,236.8 560.0,236.7 565.4,236.6 570.3,236.6 575.1,236.6 580.0,236.6 585.0,236.6 590.0,236.5 595.0,236.5 600.0,236.5 604.9,236.5 609.8,236.5 614.8,236.5 620.0,236.5 626.5,236.5 633.2,236.5 640.2,236.5 647.0,236.5" stroke="#e41414" stroke-width="1.3"/>
<polyline points="586.0,235.9 647.0,235.9" stroke="#0000dc" stroke-width="1.3" stroke-dasharray="1.6 0.8" opacity="0.6"/>

</g>
<g fill="none"><polyline points="84,19 84,454 729.5,454" stroke="#000" stroke-width="1.8" stroke-linejoin="miter"/></g>
<rect x="539" y="29" width="189" height="164.6" fill="#fff" stroke="#000" stroke-width="1.6"/><line x1="555" y1="52.7" x2="639" y2="52.7" stroke="#2020f0" stroke-width="1.4"/><text transform="translate(647.50,62.40) scale(1,1.06)" text-anchor="start">Pur1</text><line x1="555" y1="91.4" x2="639" y2="91.4" stroke="#2020f0" stroke-width="1.5" stroke-dasharray="2.8 1.8"/><text transform="translate(647.50,101.50) scale(1,1.06)" text-anchor="start">Pur2</text><line x1="555" y1="130.5" x2="639" y2="130.5" stroke="#20e020" stroke-width="1.5"/><text transform="translate(647.50,140.30) scale(1,1.06)" text-anchor="start">SOL1</text><line x1="555" y1="169.3" x2="639" y2="169.3" stroke="#20e020" stroke-width="1.5" stroke-dasharray="2.8 1.8"/><text transform="translate(647.50,179.10) scale(1,1.06)" text-anchor="start">SOL2</text><rect x="538.5" y="322.4" width="191.0" height="87.40000000000003" fill="#fff" stroke="#000" stroke-width="1.6"/><line x1="555" y1="346.9" x2="639" y2="346.9" stroke="#f02020" stroke-width="1.6"/><text transform="translate(647.50,356.90) scale(1,1.06)" text-anchor="start">HFO1</text><line x1="555" y1="385.7" x2="639" y2="385.7" stroke="#f02020" stroke-width="1" stroke-dasharray="2.2 1.6"/><text transform="translate(647.50,395.70) scale(1,1.06)" text-anchor="start">HFO2</text>
<text transform="translate(75.80,28.70) scale(1,1.06)" text-anchor="end">1</text><text transform="translate(75.80,137.60) scale(1,1.06)" text-anchor="end">0.5</text><text transform="translate(75.80,246.50) scale(1,1.06)" text-anchor="end">0</text><text transform="translate(75.80,354.90) scale(1,1.06)" text-anchor="end">-0.5</text><text transform="translate(75.80,464.20) scale(1,1.06)" text-anchor="end">-1</text><text transform="translate(84.00,487.30) scale(1,1.06)" text-anchor="middle">0</text><text transform="translate(245.38,487.30) scale(1,1.06)" text-anchor="middle">1</text><text transform="translate(406.75,487.30) scale(1,1.06)" text-anchor="middle">2</text><text transform="translate(568.12,487.30) scale(1,1.06)" text-anchor="middle">3</text><text transform="translate(729.50,487.30) scale(1,1.06)" text-anchor="middle">4</text><text transform="translate(406.50,509.80) scale(1,1.06)" text-anchor="middle">Index</text><text transform="translate(29.2,237.4) rotate(-90) scale(1,1.06)" text-anchor="middle">Steer[rad]</text><text transform="translate(671.50,533.70) scale(1,1.06)" text-anchor="start">x 10</text><text transform="translate(720.50,516.20) scale(1,1.06)" text-anchor="start" style="font-size:18px">4</text><text x="371.6" y="563" text-anchor="middle" style="font-size:30px">(<tspan style="font-weight:bold">e</tspan>)</text>
</svg>
</body></html>
